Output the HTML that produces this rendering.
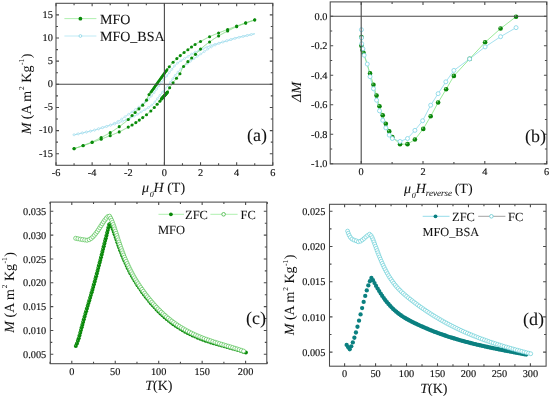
<!DOCTYPE html><html><head><meta charset="utf-8"><style>html,body{margin:0;padding:0;background:#fff;width:550px;height:396px;overflow:hidden}svg{display:block;will-change:transform}text{font-family:"Liberation Serif",serif;fill:#111;text-rendering:geometricPrecision;stroke:#111;stroke-width:0.06}.tk{stroke-width:0.15}</style></head><body>
<svg width="550" height="396" viewBox="0 0 550 396">
<rect width="550" height="396" fill="#fff"/>
<polyline points="74.07,134.75 74.52,134.66 74.97,134.58 75.43,134.49 75.88,134.4 76.33,134.31 76.78,134.22 77.24,134.13 77.69,134.04 78.14,133.94 78.59,133.85 79.05,133.76 79.5,133.66 79.95,133.57 80.41,133.48 80.86,133.38 81.31,133.28 81.76,133.19 82.22,133.09 82.67,132.99 83.12,132.9 83.58,132.8 84.03,132.7 84.48,132.6 84.93,132.5 85.39,132.4 85.84,132.3 86.29,132.2 86.75,132.1 87.2,132 87.65,131.89 88.1,131.79 88.56,131.68 89.01,131.58 89.46,131.47 89.91,131.36 90.37,131.25 90.82,131.14 91.27,131.03 91.73,130.92 92.18,130.81 92.63,130.69 93.08,130.57 93.54,130.46 93.99,130.34 94.44,130.22 94.9,130.1 95.35,129.97 95.8,129.85 96.25,129.72 96.71,129.6 97.16,129.47 97.61,129.34 98.06,129.21 98.52,129.08 98.97,128.94 99.42,128.81 99.88,128.67 100.33,128.53 100.78,128.39 101.23,128.25 101.69,128.11 102.14,127.96 102.59,127.81 103.05,127.66 103.5,127.51 103.95,127.36 104.4,127.21 104.86,127.05 105.31,126.89 105.76,126.73 106.22,126.57 106.67,126.41 107.12,126.24 107.57,126.07 108.03,125.9 108.48,125.72 108.93,125.54 109.38,125.36 109.84,125.18 110.29,124.99 110.74,124.81 111.2,124.61 111.65,124.42 112.1,124.22 112.55,124.02 113.01,123.82 113.46,123.61 113.91,123.4 114.37,123.19 114.82,122.97 115.27,122.75 115.72,122.52 116.18,122.29 116.63,122.06 117.08,121.82 117.54,121.58 117.99,121.33 118.44,121.08 118.89,120.83 119.35,120.57 119.8,120.3 120.25,120.01 120.7,119.71 121.16,119.4 121.61,119.09 122.06,118.77 122.52,118.45 122.97,118.12 123.42,117.8 123.87,117.47 124.33,117.16 124.78,116.84 125.23,116.54 125.69,116.23 126.14,115.92 126.59,115.61 127.04,115.3 127.5,114.99 127.95,114.68 128.4,114.37 128.86,114.07 129.31,113.75 129.76,113.44 130.21,113.13 130.67,112.82 131.12,112.51 131.57,112.2 132.02,111.89 132.48,111.58 132.93,111.27 133.38,110.96 133.84,110.65 134.29,110.33 134.74,110.02 135.19,109.7 135.65,109.37 136.1,109.05 136.55,108.72 137.01,108.38 137.46,108.05 137.91,107.71 138.36,107.37 138.82,107.02 139.27,106.68 139.72,106.33 140.18,105.98 140.63,105.62 141.08,105.27 141.53,104.91 141.99,104.55 142.44,104.19 142.89,103.83 143.34,103.48 143.8,103.12 144.25,102.77 144.7,102.42 145.16,102.06 145.61,101.69 146.06,101.32 146.51,100.94 146.97,100.55 147.42,100.14 147.87,99.72 148.33,99.28 148.78,98.82 149.23,98.36 149.68,97.88 150.14,97.38 150.59,96.88 151.04,96.36 151.5,95.84 151.95,95.3 152.4,94.76 152.85,94.2 153.31,93.64 153.76,93.07 154.21,92.48 154.66,91.86 155.12,91.22 155.57,90.57 156.02,89.9 156.48,89.23 156.93,88.55 157.38,87.87 157.83,87.2 158.29,86.53 158.74,85.88 159.19,85.24 159.65,84.62 160.1,84.02 160.55,83.44 161,82.87 161.46,82.31 161.91,81.76 162.36,81.21 162.82,80.67 163.27,80.13 163.72,79.58 164.17,79.03 164.63,78.46 165.08,77.9 165.53,77.34 165.98,76.78 166.44,76.21 166.89,75.65 167.34,75.09 167.8,74.52 168.25,73.95 168.7,73.39 169.15,72.82 169.61,72.25 170.06,71.68 170.51,71.11 170.97,70.54 171.42,69.97 171.87,69.4 172.32,68.82 172.78,68.24 173.23,67.63 173.68,67.01 174.14,66.4 174.59,65.82 175.04,65.3 175.49,64.84 175.95,64.42 176.4,64.03 176.85,63.65 177.3,63.29 177.76,62.94 178.21,62.61 178.66,62.29 179.12,61.97 179.57,61.67 180.02,61.36 180.47,61.05 180.93,60.75 181.38,60.45 181.83,60.16 182.29,59.87 182.74,59.6 183.19,59.32 183.64,59.06 184.1,58.79 184.55,58.53 185,58.26 185.46,58 185.91,57.74 186.36,57.47 186.81,57.2 187.27,56.92 187.72,56.64 188.17,56.35 188.62,56.05 189.08,55.75 189.53,55.44 189.98,55.13 190.44,54.83 190.89,54.53 191.34,54.23 191.79,53.94 192.25,53.66 192.7,53.39 193.15,53.14 193.61,52.9 194.06,52.67 194.51,52.45 194.96,52.23 195.42,52.02 195.87,51.81 196.32,51.61 196.78,51.41 197.23,51.22 197.68,51.02 198.13,50.83 198.59,50.64 199.04,50.45 199.49,50.26 199.94,50.07 200.4,49.88 200.85,49.68 201.3,49.48 201.76,49.28 202.21,49.08 202.66,48.88 203.11,48.68 203.57,48.48 204.02,48.28 204.47,48.09 204.93,47.89 205.38,47.69 205.83,47.5 206.28,47.31 206.74,47.12 207.19,46.93 207.64,46.75 208.1,46.57 208.55,46.39 209,46.22 209.45,46.05 209.91,45.89 210.36,45.73 210.81,45.58 211.26,45.42 211.72,45.27 212.17,45.13 212.62,44.98 213.08,44.84 213.53,44.7 213.98,44.56 214.43,44.42 214.89,44.28 215.34,44.15 215.79,44.02 216.25,43.88 216.7,43.75 217.15,43.62 217.6,43.49 218.06,43.36 218.51,43.23 218.96,43.11 219.42,42.98 219.87,42.85 220.32,42.73 220.77,42.61 221.23,42.49 221.68,42.37 222.13,42.25 222.58,42.14 223.04,42.02 223.49,41.9 223.94,41.79 224.4,41.67 224.85,41.55 225.3,41.43 225.75,41.31 226.21,41.19 226.66,41.07 227.11,40.94 227.57,40.81 228.02,40.68 228.47,40.54 228.92,40.4 229.38,40.25 229.83,40.11 230.28,39.96 230.74,39.8 231.19,39.65 231.64,39.5 232.09,39.34 232.55,39.19 233,39.04 233.45,38.89 233.9,38.74 234.36,38.59 234.81,38.45 235.26,38.32 235.72,38.18 236.17,38.06 236.62,37.93 237.07,37.82 237.53,37.7 237.98,37.6 238.43,37.49 238.89,37.39 239.34,37.29 239.79,37.19 240.24,37.09 240.7,37 241.15,36.9 241.6,36.81 242.05,36.72 242.51,36.62 242.96,36.53 243.41,36.43 243.87,36.34 244.32,36.24 244.77,36.14 245.22,36.04 245.68,35.94 246.13,35.83 246.58,35.72 247.04,35.62 247.49,35.51 247.94,35.4 248.39,35.29 248.85,35.18 249.3,35.07 249.75,34.96 250.21,34.85 250.66,34.74 251.11,34.63 251.56,34.52 252.02,34.4 252.47,34.29 252.92,34.17 253.37,34.06 253.83,33.94 254.28,33.83 254.73,33.71" fill="none" stroke="#9adcec" stroke-width="0.9"/>
<polyline points="74.07,134.89 74.52,134.77 74.97,134.66 75.43,134.54 75.88,134.43 76.33,134.31 76.78,134.2 77.24,134.08 77.69,133.97 78.14,133.86 78.59,133.75 79.05,133.64 79.5,133.53 79.95,133.42 80.41,133.31 80.86,133.2 81.31,133.09 81.76,132.98 82.22,132.88 82.67,132.77 83.12,132.66 83.58,132.56 84.03,132.46 84.48,132.36 84.93,132.26 85.39,132.17 85.84,132.07 86.29,131.98 86.75,131.88 87.2,131.79 87.65,131.7 88.1,131.6 88.56,131.51 89.01,131.41 89.46,131.31 89.91,131.21 90.37,131.11 90.82,131 91.27,130.9 91.73,130.78 92.18,130.67 92.63,130.54 93.08,130.42 93.54,130.28 93.99,130.15 94.44,130.01 94.9,129.86 95.35,129.71 95.8,129.56 96.25,129.41 96.71,129.26 97.16,129.1 97.61,128.95 98.06,128.8 98.52,128.64 98.97,128.49 99.42,128.35 99.88,128.2 100.33,128.06 100.78,127.92 101.23,127.79 101.69,127.66 102.14,127.53 102.59,127.41 103.05,127.29 103.5,127.17 103.95,127.05 104.4,126.93 104.86,126.81 105.31,126.7 105.76,126.58 106.22,126.46 106.67,126.35 107.12,126.23 107.57,126.11 108.03,125.99 108.48,125.87 108.93,125.75 109.38,125.62 109.84,125.49 110.29,125.37 110.74,125.24 111.2,125.11 111.65,124.98 112.1,124.85 112.55,124.72 113.01,124.58 113.46,124.45 113.91,124.32 114.37,124.18 114.82,124.04 115.27,123.9 115.72,123.76 116.18,123.62 116.63,123.47 117.08,123.33 117.54,123.18 117.99,123.02 118.44,122.87 118.89,122.71 119.35,122.55 119.8,122.38 120.25,122.21 120.7,122.03 121.16,121.85 121.61,121.67 122.06,121.48 122.52,121.29 122.97,121.1 123.42,120.91 123.87,120.71 124.33,120.51 124.78,120.32 125.23,120.12 125.69,119.92 126.14,119.72 126.59,119.52 127.04,119.32 127.5,119.12 127.95,118.92 128.4,118.72 128.86,118.53 129.31,118.34 129.76,118.15 130.21,117.96 130.67,117.77 131.12,117.58 131.57,117.38 132.02,117.19 132.48,116.99 132.93,116.79 133.38,116.58 133.84,116.37 134.29,116.15 134.74,115.93 135.19,115.7 135.65,115.46 136.1,115.21 136.55,114.94 137.01,114.66 137.46,114.37 137.91,114.07 138.36,113.77 138.82,113.47 139.27,113.16 139.72,112.85 140.18,112.55 140.63,112.25 141.08,111.96 141.53,111.68 141.99,111.4 142.44,111.13 142.89,110.86 143.34,110.6 143.8,110.34 144.25,110.07 144.7,109.81 145.16,109.54 145.61,109.28 146.06,109 146.51,108.73 146.97,108.44 147.42,108.15 147.87,107.85 148.33,107.55 148.78,107.24 149.23,106.93 149.68,106.63 150.14,106.31 150.59,105.99 151.04,105.66 151.5,105.31 151.95,104.95 152.4,104.57 152.85,104.18 153.31,103.76 153.76,103.3 154.21,102.78 154.66,102.2 155.12,101.59 155.57,100.97 156.02,100.36 156.48,99.78 156.93,99.2 157.38,98.63 157.83,98.06 158.29,97.49 158.74,96.92 159.19,96.35 159.65,95.78 160.1,95.21 160.55,94.65 161,94.08 161.46,93.51 161.91,92.95 162.36,92.39 162.82,91.82 163.27,91.26 163.72,90.7 164.17,90.14 164.63,89.57 165.08,89.02 165.53,88.47 165.98,87.93 166.44,87.39 166.89,86.84 167.34,86.29 167.8,85.73 168.25,85.16 168.7,84.58 169.15,83.98 169.61,83.36 170.06,82.72 170.51,82.07 170.97,81.4 171.42,80.73 171.87,80.05 172.32,79.37 172.78,78.7 173.23,78.03 173.68,77.38 174.14,76.74 174.59,76.12 175.04,75.53 175.49,74.96 175.95,74.4 176.4,73.84 176.85,73.3 177.3,72.76 177.76,72.24 178.21,71.72 178.66,71.22 179.12,70.72 179.57,70.24 180.02,69.78 180.47,69.32 180.93,68.88 181.38,68.46 181.83,68.05 182.29,67.66 182.74,67.28 183.19,66.91 183.64,66.54 184.1,66.18 184.55,65.83 185,65.48 185.46,65.12 185.91,64.77 186.36,64.41 186.81,64.05 187.27,63.69 187.72,63.33 188.17,62.98 188.62,62.62 189.08,62.27 189.53,61.92 189.98,61.58 190.44,61.23 190.89,60.89 191.34,60.55 191.79,60.22 192.25,59.88 192.7,59.55 193.15,59.23 193.61,58.9 194.06,58.58 194.51,58.27 194.96,57.95 195.42,57.64 195.87,57.33 196.32,57.02 196.78,56.71 197.23,56.4 197.68,56.09 198.13,55.78 198.59,55.47 199.04,55.16 199.49,54.85 199.94,54.53 200.4,54.23 200.85,53.92 201.3,53.61 201.76,53.3 202.21,52.99 202.66,52.68 203.11,52.37 203.57,52.06 204.02,51.76 204.47,51.44 204.93,51.13 205.38,50.8 205.83,50.48 206.28,50.15 206.74,49.83 207.19,49.51 207.64,49.2 208.1,48.89 208.55,48.59 209,48.3 209.45,48.03 209.91,47.77 210.36,47.52 210.81,47.27 211.26,47.02 211.72,46.78 212.17,46.54 212.62,46.31 213.08,46.08 213.53,45.85 213.98,45.63 214.43,45.41 214.89,45.2 215.34,44.99 215.79,44.78 216.25,44.58 216.7,44.38 217.15,44.18 217.6,43.99 218.06,43.79 218.51,43.61 218.96,43.42 219.42,43.24 219.87,43.06 220.32,42.88 220.77,42.7 221.23,42.53 221.68,42.36 222.13,42.19 222.58,42.03 223.04,41.87 223.49,41.71 223.94,41.55 224.4,41.39 224.85,41.24 225.3,41.09 225.75,40.94 226.21,40.79 226.66,40.64 227.11,40.49 227.57,40.35 228.02,40.21 228.47,40.07 228.92,39.93 229.38,39.79 229.83,39.66 230.28,39.52 230.74,39.39 231.19,39.26 231.64,39.13 232.09,39 232.55,38.88 233,38.75 233.45,38.63 233.9,38.5 234.36,38.38 234.81,38.26 235.26,38.14 235.72,38.03 236.17,37.91 236.62,37.79 237.07,37.68 237.53,37.57 237.98,37.46 238.43,37.35 238.89,37.24 239.34,37.13 239.79,37.02 240.24,36.92 240.7,36.81 241.15,36.71 241.6,36.6 242.05,36.5 242.51,36.4 242.96,36.3 243.41,36.2 243.87,36.1 244.32,36 244.77,35.9 245.22,35.8 245.68,35.7 246.13,35.61 246.58,35.51 247.04,35.41 247.49,35.32 247.94,35.22 248.39,35.12 248.85,35.03 249.3,34.94 249.75,34.84 250.21,34.75 250.66,34.66 251.11,34.56 251.56,34.47 252.02,34.38 252.47,34.29 252.92,34.2 253.37,34.11 253.83,34.02 254.28,33.94 254.73,33.85" fill="none" stroke="#9adcec" stroke-width="0.9"/>
<g fill="#fff" stroke="#a2dcec" stroke-width="0.6"><circle cx="74.07" cy="134.75" r="0.95"/><circle cx="78.19" cy="133.93" r="0.95"/><circle cx="82.3" cy="133.07" r="0.95"/><circle cx="86.4" cy="132.17" r="0.95"/><circle cx="90.49" cy="131.22" r="0.95"/><circle cx="94.56" cy="130.19" r="0.95"/><circle cx="98.6" cy="129.05" r="0.95"/><circle cx="102.62" cy="127.81" r="0.95"/><circle cx="106.59" cy="126.44" r="0.95"/><circle cx="110.5" cy="124.91" r="0.95"/><circle cx="114.33" cy="123.2" r="0.95"/><circle cx="118.07" cy="121.29" r="0.95"/><circle cx="121.64" cy="119.07" r="0.95"/><circle cx="125.07" cy="116.65" r="0.95"/><circle cx="128.54" cy="114.28" r="0.95"/><circle cx="132" cy="111.91" r="0.95"/><circle cx="135.45" cy="109.51" r="0.95"/><circle cx="138.83" cy="107.01" r="0.95"/><circle cx="142.14" cy="104.43" r="0.95"/><circle cx="145.44" cy="101.83" r="0.95"/><circle cx="148.57" cy="99.04" r="0.95"/><circle cx="151.41" cy="95.94" r="0.95"/><circle cx="154.06" cy="92.68" r="0.95"/><circle cx="156.47" cy="89.24" r="0.95"/><circle cx="158.82" cy="85.76" r="0.95"/><circle cx="161.36" cy="82.43" r="0.95"/><circle cx="164.04" cy="79.19" r="0.95"/><circle cx="166.68" cy="75.92" r="0.95"/><circle cx="169.3" cy="72.64" r="0.95"/><circle cx="171.91" cy="69.35" r="0.95"/><circle cx="174.44" cy="66" r="0.95"/><circle cx="177.5" cy="63.14" r="0.95"/><circle cx="180.95" cy="60.73" r="0.95"/><circle cx="184.53" cy="58.54" r="0.95"/><circle cx="188.13" cy="56.38" r="0.95"/><circle cx="191.62" cy="54.05" r="0.95"/><circle cx="195.32" cy="52.06" r="0.95"/><circle cx="199.17" cy="50.4" r="0.95"/><circle cx="203.03" cy="48.72" r="0.95"/><circle cx="206.88" cy="47.06" r="0.95"/><circle cx="210.81" cy="45.58" r="0.95"/><circle cx="214.81" cy="44.31" r="0.95"/><circle cx="218.85" cy="43.14" r="0.95"/><circle cx="222.91" cy="42.05" r="0.95"/><circle cx="226.97" cy="40.98" r="0.95"/><circle cx="230.97" cy="39.72" r="0.95"/><circle cx="234.96" cy="38.41" r="0.95"/><circle cx="239.03" cy="37.36" r="0.95"/><circle cx="243.14" cy="36.49" r="0.95"/><circle cx="247.23" cy="35.57" r="0.95"/><circle cx="251.31" cy="34.58" r="0.95"/></g>
<g fill="#fff" stroke="#a2dcec" stroke-width="0.6"><circle cx="74.07" cy="134.89" r="0.95"/><circle cx="78.14" cy="133.86" r="0.95"/><circle cx="82.22" cy="132.87" r="0.95"/><circle cx="86.32" cy="131.97" r="0.95"/><circle cx="90.43" cy="131.1" r="0.95"/><circle cx="94.48" cy="129.99" r="0.95"/><circle cx="98.47" cy="128.66" r="0.95"/><circle cx="102.48" cy="127.44" r="0.95"/><circle cx="106.55" cy="126.38" r="0.95"/><circle cx="110.6" cy="125.28" r="0.95"/><circle cx="114.63" cy="124.1" r="0.95"/><circle cx="118.63" cy="122.8" r="0.95"/><circle cx="122.54" cy="121.28" r="0.95"/><circle cx="126.39" cy="119.61" r="0.95"/><circle cx="130.25" cy="117.94" r="0.95"/><circle cx="134.09" cy="116.25" r="0.95"/><circle cx="137.74" cy="114.19" r="0.95"/><circle cx="141.24" cy="111.86" r="0.95"/><circle cx="144.85" cy="109.72" r="0.95"/><circle cx="148.41" cy="107.49" r="0.95"/><circle cx="151.83" cy="105.05" r="0.95"/><circle cx="154.77" cy="102.07" r="0.95"/><circle cx="157.31" cy="98.72" r="0.95"/><circle cx="159.92" cy="95.44" r="0.95"/><circle cx="162.55" cy="92.16" r="0.95"/><circle cx="165.19" cy="88.89" r="0.95"/><circle cx="167.86" cy="85.65" r="0.95"/><circle cx="170.37" cy="82.28" r="0.95"/><circle cx="172.71" cy="78.8" r="0.95"/><circle cx="175.15" cy="75.38" r="0.95"/><circle cx="177.83" cy="72.15" r="0.95"/><circle cx="180.71" cy="69.09" r="0.95"/><circle cx="183.89" cy="66.35" r="0.95"/><circle cx="187.19" cy="63.75" r="0.95"/><circle cx="190.51" cy="61.18" r="0.95"/><circle cx="193.9" cy="58.7" r="0.95"/><circle cx="197.35" cy="56.31" r="0.95"/><circle cx="200.82" cy="53.94" r="0.95"/><circle cx="204.29" cy="51.57" r="0.95"/><circle cx="207.72" cy="49.14" r="0.95"/><circle cx="211.32" cy="46.99" r="0.95"/><circle cx="215.07" cy="45.11" r="0.95"/><circle cx="218.92" cy="43.44" r="0.95"/><circle cx="222.85" cy="41.93" r="0.95"/><circle cx="226.82" cy="40.59" r="0.95"/><circle cx="230.84" cy="39.36" r="0.95"/><circle cx="234.89" cy="38.24" r="0.95"/><circle cx="238.96" cy="37.22" r="0.95"/><circle cx="243.06" cy="36.28" r="0.95"/><circle cx="247.16" cy="35.39" r="0.95"/><circle cx="251.27" cy="34.53" r="0.95"/></g>
<polyline points="74.07,148.73 74.52,148.58 74.97,148.42 75.43,148.26 75.88,148.11 76.33,147.95 76.78,147.79 77.24,147.63 77.69,147.47 78.14,147.31 78.59,147.15 79.05,146.98 79.5,146.82 79.95,146.65 80.41,146.49 80.86,146.32 81.31,146.16 81.76,145.99 82.22,145.82 82.67,145.65 83.12,145.48 83.58,145.31 84.03,145.14 84.48,144.97 84.93,144.8 85.39,144.63 85.84,144.46 86.29,144.29 86.75,144.11 87.2,143.94 87.65,143.76 88.1,143.59 88.56,143.41 89.01,143.23 89.46,143.04 89.91,142.86 90.37,142.67 90.82,142.49 91.27,142.3 91.73,142.1 92.18,141.91 92.63,141.71 93.08,141.5 93.54,141.3 93.99,141.09 94.44,140.88 94.9,140.66 95.35,140.45 95.8,140.23 96.25,140.01 96.71,139.78 97.16,139.56 97.61,139.33 98.06,139.11 98.52,138.88 98.97,138.65 99.42,138.42 99.88,138.19 100.33,137.96 100.78,137.73 101.23,137.49 101.69,137.26 102.14,137.03 102.59,136.8 103.05,136.57 103.5,136.33 103.95,136.1 104.4,135.87 104.86,135.63 105.31,135.39 105.76,135.15 106.22,134.91 106.67,134.67 107.12,134.42 107.57,134.17 108.03,133.92 108.48,133.67 108.93,133.41 109.38,133.15 109.84,132.88 110.29,132.61 110.74,132.34 111.2,132.07 111.65,131.79 112.1,131.5 112.55,131.22 113.01,130.93 113.46,130.64 113.91,130.34 114.37,130.04 114.82,129.74 115.27,129.43 115.72,129.12 116.18,128.81 116.63,128.5 117.08,128.18 117.54,127.87 117.99,127.55 118.44,127.22 118.89,126.9 119.35,126.57 119.8,126.24 120.25,125.91 120.7,125.58 121.16,125.25 121.61,124.91 122.06,124.57 122.52,124.23 122.97,123.88 123.42,123.54 123.87,123.18 124.33,122.83 124.78,122.46 125.23,122.1 125.69,121.72 126.14,121.35 126.59,120.96 127.04,120.57 127.5,120.17 127.95,119.77 128.4,119.35 128.86,118.92 129.31,118.46 129.76,117.99 130.21,117.51 130.67,117.02 131.12,116.53 131.57,116.05 132.02,115.58 132.48,115.12 132.93,114.65 133.38,114.19 133.84,113.73 134.29,113.27 134.74,112.81 135.19,112.36 135.65,111.92 136.1,111.49 136.55,111.06 137.01,110.63 137.46,110.21 137.91,109.79 138.36,109.37 138.82,108.94 139.27,108.5 139.72,108.08 140.18,107.66 140.63,107.23 141.08,106.81 141.53,106.37 141.99,105.91 142.44,105.43 142.89,104.94 143.34,104.44 143.8,103.93 144.25,103.4 144.7,102.85 145.16,102.26 145.61,101.63 146.06,100.94 146.51,100.17 146.97,99.19 147.42,98.06 147.87,96.91 148.33,95.86 148.78,95.02 149.23,94.34 149.68,93.75 150.14,93.19 150.59,92.64 151.04,92.06 151.5,91.44 151.95,90.82 152.4,90.19 152.85,89.56 153.31,88.93 153.76,88.29 154.21,87.65 154.66,87.01 155.12,86.36 155.57,85.72 156.02,85.08 156.48,84.44 156.93,83.81 157.38,83.18 157.83,82.54 158.29,81.91 158.74,81.28 159.19,80.65 159.65,80.02 160.1,79.39 160.55,78.75 161,78.12 161.46,77.5 161.91,76.87 162.36,76.24 162.82,75.61 163.27,74.98 163.72,74.36 164.17,73.73 164.63,73.11 165.08,72.49 165.53,71.88 165.98,71.26 166.44,70.64 166.89,70.02 167.34,69.4 167.8,68.76 168.25,68.11 168.7,67.48 169.15,66.87 169.61,66.29 170.06,65.72 170.51,65.16 170.97,64.61 171.42,64.07 171.87,63.54 172.32,63.03 172.78,62.54 173.23,62.06 173.68,61.59 174.14,61.14 174.59,60.71 175.04,60.28 175.49,59.86 175.95,59.45 176.4,59.04 176.85,58.62 177.3,58.21 177.76,57.81 178.21,57.41 178.66,57.01 179.12,56.62 179.57,56.23 180.02,55.84 180.47,55.45 180.93,55.07 181.38,54.68 181.83,54.3 182.29,53.92 182.74,53.54 183.19,53.17 183.64,52.81 184.1,52.45 184.55,52.1 185,51.77 185.46,51.43 185.91,51.1 186.36,50.78 186.81,50.45 187.27,50.13 187.72,49.8 188.17,49.47 188.62,49.14 189.08,48.8 189.53,48.47 189.98,48.14 190.44,47.81 190.89,47.48 191.34,47.15 191.79,46.83 192.25,46.5 192.7,46.17 193.15,45.84 193.61,45.51 194.06,45.19 194.51,44.88 194.96,44.59 195.42,44.31 195.87,44.03 196.32,43.77 196.78,43.51 197.23,43.26 197.68,43.01 198.13,42.77 198.59,42.52 199.04,42.28 199.49,42.04 199.94,41.8 200.4,41.56 200.85,41.31 201.3,41.07 201.76,40.82 202.21,40.57 202.66,40.32 203.11,40.07 203.57,39.82 204.02,39.57 204.47,39.33 204.93,39.08 205.38,38.84 205.83,38.6 206.28,38.36 206.74,38.12 207.19,37.88 207.64,37.65 208.1,37.43 208.55,37.2 209,36.99 209.45,36.77 209.91,36.56 210.36,36.36 210.81,36.15 211.26,35.95 211.72,35.76 212.17,35.57 212.62,35.37 213.08,35.19 213.53,35 213.98,34.81 214.43,34.63 214.89,34.45 215.34,34.27 215.79,34.09 216.25,33.91 216.7,33.73 217.15,33.55 217.6,33.37 218.06,33.19 218.51,33.01 218.96,32.82 219.42,32.64 219.87,32.46 220.32,32.28 220.77,32.1 221.23,31.93 221.68,31.75 222.13,31.57 222.58,31.39 223.04,31.22 223.49,31.04 223.94,30.87 224.4,30.69 224.85,30.52 225.3,30.34 225.75,30.17 226.21,30 226.66,29.82 227.11,29.65 227.57,29.48 228.02,29.3 228.47,29.13 228.92,28.96 229.38,28.79 229.83,28.62 230.28,28.44 230.74,28.27 231.19,28.1 231.64,27.93 232.09,27.76 232.55,27.59 233,27.42 233.45,27.26 233.9,27.09 234.36,26.92 234.81,26.75 235.26,26.59 235.72,26.42 236.17,26.25 236.62,26.09 237.07,25.92 237.53,25.76 237.98,25.6 238.43,25.43 238.89,25.27 239.34,25.1 239.79,24.94 240.24,24.78 240.7,24.62 241.15,24.46 241.6,24.29 242.05,24.13 242.51,23.97 242.96,23.82 243.41,23.66 243.87,23.5 244.32,23.35 244.77,23.19 245.22,23.04 245.68,22.89 246.13,22.74 246.58,22.58 247.04,22.44 247.49,22.29 247.94,22.14 248.39,21.99 248.85,21.84 249.3,21.7 249.75,21.55 250.21,21.41 250.66,21.26 251.11,21.12 251.56,20.98 252.02,20.84 252.47,20.7 252.92,20.56 253.37,20.42 253.83,20.28 254.28,20.15 254.73,20.01" fill="none" stroke="#7ed87e" stroke-width="0.9"/>
<polyline points="74.07,148.59 74.52,148.45 74.97,148.32 75.43,148.18 75.88,148.04 76.33,147.9 76.78,147.76 77.24,147.62 77.69,147.48 78.14,147.34 78.59,147.19 79.05,147.05 79.5,146.9 79.95,146.76 80.41,146.61 80.86,146.46 81.31,146.31 81.76,146.16 82.22,146.02 82.67,145.86 83.12,145.71 83.58,145.56 84.03,145.41 84.48,145.25 84.93,145.1 85.39,144.94 85.84,144.78 86.29,144.63 86.75,144.47 87.2,144.31 87.65,144.14 88.1,143.98 88.56,143.82 89.01,143.66 89.46,143.5 89.91,143.33 90.37,143.17 90.82,143 91.27,142.84 91.73,142.68 92.18,142.51 92.63,142.35 93.08,142.18 93.54,142.01 93.99,141.85 94.44,141.68 94.9,141.51 95.35,141.34 95.8,141.18 96.25,141.01 96.71,140.84 97.16,140.67 97.61,140.5 98.06,140.33 98.52,140.16 98.97,139.98 99.42,139.81 99.88,139.64 100.33,139.47 100.78,139.3 101.23,139.12 101.69,138.95 102.14,138.78 102.59,138.6 103.05,138.43 103.5,138.26 103.95,138.08 104.4,137.91 104.86,137.73 105.31,137.56 105.76,137.38 106.22,137.21 106.67,137.03 107.12,136.85 107.57,136.67 108.03,136.5 108.48,136.32 108.93,136.14 109.38,135.96 109.84,135.78 110.29,135.59 110.74,135.41 111.2,135.23 111.65,135.05 112.1,134.87 112.55,134.69 113.01,134.51 113.46,134.33 113.91,134.15 114.37,133.97 114.82,133.79 115.27,133.6 115.72,133.41 116.18,133.23 116.63,133.03 117.08,132.84 117.54,132.65 117.99,132.45 118.44,132.24 118.89,132.04 119.35,131.83 119.8,131.61 120.25,131.4 120.7,131.17 121.16,130.95 121.61,130.72 122.06,130.48 122.52,130.24 122.97,130 123.42,129.76 123.87,129.52 124.33,129.27 124.78,129.03 125.23,128.78 125.69,128.53 126.14,128.28 126.59,128.03 127.04,127.78 127.5,127.53 127.95,127.29 128.4,127.04 128.86,126.8 129.31,126.56 129.76,126.32 130.21,126.08 130.67,125.83 131.12,125.59 131.57,125.34 132.02,125.09 132.48,124.83 132.93,124.57 133.38,124.29 133.84,124.01 134.29,123.72 134.74,123.41 135.19,123.09 135.65,122.76 136.1,122.43 136.55,122.1 137.01,121.77 137.46,121.45 137.91,121.12 138.36,120.79 138.82,120.46 139.27,120.13 139.72,119.8 140.18,119.46 140.63,119.13 141.08,118.8 141.53,118.47 141.99,118.15 142.44,117.82 142.89,117.5 143.34,117.17 143.8,116.83 144.25,116.5 144.7,116.15 145.16,115.79 145.61,115.43 146.06,115.06 146.51,114.68 146.97,114.3 147.42,113.92 147.87,113.53 148.33,113.15 148.78,112.76 149.23,112.38 149.68,112 150.14,111.61 150.59,111.22 151.04,110.82 151.5,110.4 151.95,109.98 152.4,109.53 152.85,109.06 153.31,108.59 153.76,108.1 154.21,107.6 154.66,107.09 155.12,106.58 155.57,106.07 156.02,105.56 156.48,105.06 156.93,104.56 157.38,104.08 157.83,103.61 158.29,103.16 158.74,102.69 159.19,102.19 159.65,101.64 160.1,100.99 160.55,100.29 161,99.59 161.46,98.95 161.91,98.39 162.36,97.86 162.82,97.36 163.27,96.88 163.72,96.39 164.17,95.9 164.63,95.38 165.08,94.88 165.53,94.39 165.98,93.88 166.44,93.35 166.89,92.77 167.34,92.14 167.8,91.38 168.25,90.51 168.7,89.59 169.15,88.69 169.61,87.87 170.06,87.13 170.51,86.42 170.97,85.74 171.42,85.08 171.87,84.43 172.32,83.79 172.78,83.16 173.23,82.53 173.68,81.9 174.14,81.29 174.59,80.68 175.04,80.08 175.49,79.49 175.95,78.9 176.4,78.31 176.85,77.73 177.3,77.13 177.76,76.54 178.21,75.96 178.66,75.42 179.12,74.86 179.57,74.26 180.02,73.58 180.47,72.74 180.93,71.69 181.38,70.54 181.83,69.41 182.29,68.43 182.74,67.66 183.19,66.97 183.64,66.34 184.1,65.75 184.55,65.2 185,64.67 185.46,64.16 185.91,63.66 186.36,63.17 186.81,62.69 187.27,62.23 187.72,61.79 188.17,61.37 188.62,60.94 189.08,60.52 189.53,60.1 189.98,59.66 190.44,59.23 190.89,58.81 191.34,58.39 191.79,57.97 192.25,57.54 192.7,57.11 193.15,56.68 193.61,56.24 194.06,55.79 194.51,55.33 194.96,54.87 195.42,54.41 195.87,53.95 196.32,53.48 196.78,53.02 197.23,52.55 197.68,52.07 198.13,51.58 198.59,51.09 199.04,50.61 199.49,50.14 199.94,49.68 200.4,49.25 200.85,48.83 201.3,48.43 201.76,48.03 202.21,47.64 202.66,47.25 203.11,46.88 203.57,46.5 204.02,46.14 204.47,45.77 204.93,45.42 205.38,45.06 205.83,44.72 206.28,44.37 206.74,44.03 207.19,43.69 207.64,43.35 208.1,43.02 208.55,42.69 209,42.36 209.45,42.03 209.91,41.7 210.36,41.38 210.81,41.05 211.26,40.73 211.72,40.42 212.17,40.1 212.62,39.79 213.08,39.48 213.53,39.17 213.98,38.86 214.43,38.56 214.89,38.26 215.34,37.96 215.79,37.67 216.25,37.38 216.7,37.1 217.15,36.81 217.6,36.53 218.06,36.26 218.51,35.99 218.96,35.72 219.42,35.45 219.87,35.19 220.32,34.93 220.77,34.68 221.23,34.43 221.68,34.18 222.13,33.93 222.58,33.69 223.04,33.45 223.49,33.21 223.94,32.97 224.4,32.73 224.85,32.5 225.3,32.27 225.75,32.03 226.21,31.8 226.66,31.57 227.11,31.34 227.57,31.11 228.02,30.87 228.47,30.64 228.92,30.41 229.38,30.18 229.83,29.95 230.28,29.72 230.74,29.49 231.19,29.27 231.64,29.04 232.09,28.82 232.55,28.59 233,28.37 233.45,28.15 233.9,27.94 234.36,27.72 234.81,27.51 235.26,27.3 235.72,27.1 236.17,26.89 236.62,26.69 237.07,26.5 237.53,26.3 237.98,26.11 238.43,25.93 238.89,25.74 239.34,25.56 239.79,25.37 240.24,25.19 240.7,25.01 241.15,24.84 241.6,24.66 242.05,24.49 242.51,24.31 242.96,24.14 243.41,23.97 243.87,23.8 244.32,23.63 244.77,23.46 245.22,23.29 245.68,23.12 246.13,22.95 246.58,22.78 247.04,22.61 247.49,22.44 247.94,22.28 248.39,22.11 248.85,21.95 249.3,21.78 249.75,21.62 250.21,21.45 250.66,21.29 251.11,21.13 251.56,20.97 252.02,20.81 252.47,20.65 252.92,20.49 253.37,20.34 253.83,20.18 254.28,20.02 254.73,19.87" fill="none" stroke="#7ed87e" stroke-width="0.9"/>
<g fill="#0a8a0a"><circle cx="254.73" cy="20.01" r="1.55"/><circle cx="245.7" cy="22.88" r="1.55"/><circle cx="236.67" cy="26.07" r="1.55"/><circle cx="227.63" cy="29.45" r="1.55"/><circle cx="218.6" cy="32.97" r="1.55"/><circle cx="209.57" cy="36.72" r="1.55"/><circle cx="200.53" cy="41.49" r="1.55"/><circle cx="195.11" cy="44.49" r="1.55"/><circle cx="191.5" cy="47.04" r="1.55"/><circle cx="187.89" cy="49.68" r="1.55"/><circle cx="184.09" cy="52.46" r="1.55"/><circle cx="180.3" cy="55.6" r="1.55"/><circle cx="176.87" cy="58.61" r="1.55"/><circle cx="173.07" cy="62.22" r="1.55"/><circle cx="169.28" cy="66.71" r="1.55"/><circle cx="149.04" cy="94.61" r="1.55"/><circle cx="146.51" cy="100.17" r="1.55"/><circle cx="142.72" cy="105.13" r="1.55"/><circle cx="138.93" cy="108.83" r="1.55"/><circle cx="135.13" cy="112.43" r="1.55"/><circle cx="132.06" cy="115.54" r="1.55"/><circle cx="128.27" cy="119.48" r="1.55"/><circle cx="119.23" cy="126.65" r="1.55"/><circle cx="110.2" cy="132.67" r="1.55"/><circle cx="101.17" cy="137.53" r="1.55"/><circle cx="92.13" cy="141.93" r="1.55"/><circle cx="83.1" cy="145.49" r="1.55"/><circle cx="74.07" cy="148.73" r="1.55"/></g>
<g fill="#0a8a0a"><circle cx="167.11" cy="69.72" r="1.35"/><circle cx="166.55" cy="70.49" r="1.35"/><circle cx="165.99" cy="71.25" r="1.35"/><circle cx="165.43" cy="72.02" r="1.35"/><circle cx="164.87" cy="72.78" r="1.35"/><circle cx="164.31" cy="73.55" r="1.35"/><circle cx="163.75" cy="74.32" r="1.35"/><circle cx="163.19" cy="75.1" r="1.35"/><circle cx="162.62" cy="75.87" r="1.35"/><circle cx="162.06" cy="76.65" r="1.35"/><circle cx="161.5" cy="77.43" r="1.35"/><circle cx="160.94" cy="78.21" r="1.35"/><circle cx="160.38" cy="78.99" r="1.35"/><circle cx="159.82" cy="79.77" r="1.35"/><circle cx="159.26" cy="80.55" r="1.35"/><circle cx="158.7" cy="81.34" r="1.35"/><circle cx="158.14" cy="82.12" r="1.35"/><circle cx="157.58" cy="82.9" r="1.35"/><circle cx="157.02" cy="83.68" r="1.35"/><circle cx="156.46" cy="84.47" r="1.35"/><circle cx="155.9" cy="85.26" r="1.35"/><circle cx="155.34" cy="86.06" r="1.35"/><circle cx="154.77" cy="86.85" r="1.35"/><circle cx="154.21" cy="87.65" r="1.35"/><circle cx="153.65" cy="88.44" r="1.35"/><circle cx="153.09" cy="89.23" r="1.35"/><circle cx="152.53" cy="90.01" r="1.35"/><circle cx="151.97" cy="90.79" r="1.35"/><circle cx="151.41" cy="91.56" r="1.35"/><circle cx="150.85" cy="92.32" r="1.35"/></g>
<g fill="#0a8a0a"><circle cx="74.07" cy="148.59" r="1.55"/><circle cx="83.1" cy="145.72" r="1.55"/><circle cx="92.13" cy="142.53" r="1.55"/><circle cx="101.17" cy="139.15" r="1.55"/><circle cx="110.2" cy="135.63" r="1.55"/><circle cx="119.23" cy="131.88" r="1.55"/><circle cx="128.27" cy="127.11" r="1.55"/><circle cx="132.06" cy="125.07" r="1.55"/><circle cx="135.85" cy="122.61" r="1.55"/><circle cx="139.29" cy="120.11" r="1.55"/><circle cx="142.72" cy="117.62" r="1.55"/><circle cx="146.51" cy="114.68" r="1.55"/><circle cx="150.85" cy="110.99" r="1.55"/><circle cx="154.28" cy="107.52" r="1.55"/><circle cx="157.17" cy="104.3" r="1.55"/><circle cx="159.88" cy="101.31" r="1.55"/><circle cx="169.64" cy="87.82" r="1.55"/><circle cx="173.07" cy="82.75" r="1.55"/><circle cx="176.5" cy="78.18" r="1.55"/><circle cx="179.94" cy="73.72" r="1.55"/><circle cx="183.55" cy="66.47" r="1.55"/><circle cx="187.89" cy="61.63" r="1.55"/><circle cx="191.68" cy="58.07" r="1.55"/><circle cx="195.47" cy="54.35" r="1.55"/><circle cx="200.53" cy="49.12" r="1.55"/><circle cx="209.57" cy="41.95" r="1.55"/><circle cx="218.6" cy="35.93" r="1.55"/><circle cx="227.63" cy="31.07" r="1.55"/><circle cx="236.67" cy="26.67" r="1.55"/><circle cx="245.7" cy="23.11" r="1.55"/><circle cx="254.73" cy="19.87" r="1.55"/></g>
<g fill="#0a8a0a"><circle cx="161.33" cy="99.12" r="1.55"/><circle cx="161.65" cy="98.7" r="1.55"/><circle cx="161.98" cy="98.31" r="1.55"/><circle cx="162.3" cy="97.93" r="1.55"/><circle cx="162.62" cy="97.57" r="1.55"/><circle cx="162.95" cy="97.22" r="1.55"/><circle cx="163.27" cy="96.88" r="1.55"/><circle cx="163.59" cy="96.53" r="1.55"/><circle cx="163.92" cy="96.18" r="1.55"/><circle cx="164.24" cy="95.82" r="1.55"/><circle cx="164.56" cy="95.46" r="1.55"/><circle cx="164.88" cy="95.1" r="1.55"/><circle cx="165.21" cy="94.74" r="1.55"/><circle cx="165.53" cy="94.39" r="1.55"/><circle cx="165.85" cy="94.03" r="1.55"/><circle cx="166.18" cy="93.66" r="1.55"/><circle cx="166.5" cy="93.27" r="1.55"/><circle cx="166.82" cy="92.86" r="1.55"/><circle cx="167.15" cy="92.42" r="1.55"/><circle cx="167.47" cy="91.94" r="1.55"/></g>
<path d="M56 165.3v-3.0M56 3.3v3.0M92.13 165.3v-3.0M92.13 3.3v3.0M128.27 165.3v-3.0M128.27 3.3v3.0M164.4 165.3v-3.0M164.4 3.3v3.0M200.53 165.3v-3.0M200.53 3.3v3.0M236.67 165.3v-3.0M236.67 3.3v3.0M272.8 165.3v-3.0M272.8 3.3v3.0M74.07 165.3v-2.0M74.07 3.3v2.0M110.2 165.3v-2.0M110.2 3.3v2.0M146.33 165.3v-2.0M146.33 3.3v2.0M182.47 165.3v-2.0M182.47 3.3v2.0M218.6 165.3v-2.0M218.6 3.3v2.0M254.73 165.3v-2.0M254.73 3.3v2.0M56 153.73h3.0M272.8 153.73h-3.0M56 130.59h3.0M272.8 130.59h-3.0M56 107.44h3.0M272.8 107.44h-3.0M56 84.3h3.0M272.8 84.3h-3.0M56 61.16h3.0M272.8 61.16h-3.0M56 38.01h3.0M272.8 38.01h-3.0M56 14.87h3.0M272.8 14.87h-3.0M56 142.16h2.0M272.8 142.16h-2.0M56 119.01h2.0M272.8 119.01h-2.0M56 95.87h2.0M272.8 95.87h-2.0M56 72.73h2.0M272.8 72.73h-2.0M56 49.59h2.0M272.8 49.59h-2.0M56 26.44h2.0M272.8 26.44h-2.0" stroke="#4a4a4a" stroke-width="1.1" fill="none"/>
<rect x="56" y="3.3" width="216.8" height="162" fill="none" stroke="#4a4a4a" stroke-width="1.05"/>
<path d="M164.4 3.3V165.3M56 84.3H272.8" stroke="#4a4a4a" stroke-width="1.1"/>
<text class="tk" x="56" y="176.3" font-size="10.3" text-anchor="middle">-6</text>
<text class="tk" x="92.13" y="176.3" font-size="10.3" text-anchor="middle">-4</text>
<text class="tk" x="128.27" y="176.3" font-size="10.3" text-anchor="middle">-2</text>
<text class="tk" x="164.4" y="176.3" font-size="10.3" text-anchor="middle">0</text>
<text class="tk" x="200.53" y="176.3" font-size="10.3" text-anchor="middle">2</text>
<text class="tk" x="236.67" y="176.3" font-size="10.3" text-anchor="middle">4</text>
<text class="tk" x="272.8" y="176.3" font-size="10.3" text-anchor="middle">6</text>
<text class="tk" x="52.8" y="156.63" font-size="10.3" text-anchor="end">-15</text>
<text class="tk" x="52.8" y="133.49" font-size="10.3" text-anchor="end">-10</text>
<text class="tk" x="52.8" y="110.34" font-size="10.3" text-anchor="end">-5</text>
<text class="tk" x="52.8" y="87.2" font-size="10.3" text-anchor="end">0</text>
<text class="tk" x="52.8" y="64.06" font-size="10.3" text-anchor="end">5</text>
<text class="tk" x="52.8" y="40.91" font-size="10.3" text-anchor="end">10</text>
<text class="tk" x="52.8" y="17.77" font-size="10.3" text-anchor="end">15</text>
<path d="M64.4 18.6H96.4" stroke="#a6eea6" stroke-width="0.9"/><circle cx="80.4" cy="18.7" r="1.9" fill="#0a8a0a"/>
<path d="M64.4 36H96.4" stroke="#b8e8f4" stroke-width="0.9"/><circle cx="80.4" cy="36" r="1.4" fill="#fff" stroke="#86d4e4" stroke-width="0.8"/>
<text x="100" y="23.8" font-size="14">MFO</text>
<text x="100" y="41.3" font-size="14">MFO_BSA</text>
<text x="247" y="141.2" font-size="18">(a)</text>
<text x="163.5" y="191.8" font-size="14" text-anchor="middle"><tspan font-style="italic">μ</tspan><tspan font-style="italic" font-size="8" dy="5.3" dx="0.8">0</tspan><tspan font-style="italic" dy="-5.3" dx="-0.2">H</tspan> (T)</text>
<text transform="translate(30.6 94) rotate(-90)" font-size="14" text-anchor="middle" style="stroke-width:0.05"><tspan font-style="italic">M</tspan> (A m<tspan font-size="7.5" dy="-6.5" dx="0.8">2</tspan><tspan dy="6.5"> Kg</tspan><tspan font-size="7.5" dy="-6.5" dx="0.5">-1</tspan><tspan dy="6.5" dx="0.5">)</tspan></text>
<polyline points="361.4,29.72 361.49,37.86 361.71,43.78 362.95,48.82 364.18,55.18 367.28,64.06 370.06,76.64 373.46,88.63 376.56,100.17 379.49,110.83 382.74,120.3 385.83,127.85 389.24,135.1 392.33,138.5 400.06,141.46 407.49,138.5 414.91,130.36 422.64,120.74 430.68,105.2 438.11,93.66 445.84,81.82 453.88,70.42 469.65,58.88 485.12,46.89 500.58,36.68 516.05,27.65" fill="none" stroke="#9adcec" stroke-width="0.9"/>
<polyline points="361.4,36.98 361.4,45.86 362.33,49.7 363.57,52.96 370.06,73.38 373.46,84.78 376.56,95.58 379.49,106.24 382.74,115.27 385.83,123.85 389.24,131.4 392.33,137.17 400.06,144.13 407.49,144.13 414.91,139.54 423.26,128.88 430.68,116.3 438.11,102.54 446.15,89.22 453.88,75.9 469.65,58.88 485.12,42.3 500.58,28.54 516.05,16.7" fill="none" stroke="#8ee88e" stroke-width="0.9"/>
<g fill="#0a860a"><circle cx="361.4" cy="36.98" r="2.3"/><circle cx="360.7" cy="36.18" r="0.8" fill="#7fcf7f"/><circle cx="361.4" cy="45.86" r="2.3"/><circle cx="360.7" cy="45.06" r="0.8" fill="#7fcf7f"/><circle cx="362.33" cy="49.7" r="2.3"/><circle cx="361.63" cy="48.9" r="0.8" fill="#7fcf7f"/><circle cx="363.57" cy="52.96" r="2.3"/><circle cx="362.87" cy="52.16" r="0.8" fill="#7fcf7f"/><circle cx="370.06" cy="73.38" r="2.3"/><circle cx="369.36" cy="72.58" r="0.8" fill="#7fcf7f"/><circle cx="373.46" cy="84.78" r="2.3"/><circle cx="372.76" cy="83.98" r="0.8" fill="#7fcf7f"/><circle cx="376.56" cy="95.58" r="2.3"/><circle cx="375.86" cy="94.78" r="0.8" fill="#7fcf7f"/><circle cx="379.49" cy="106.24" r="2.3"/><circle cx="378.79" cy="105.44" r="0.8" fill="#7fcf7f"/><circle cx="382.74" cy="115.27" r="2.3"/><circle cx="382.04" cy="114.47" r="0.8" fill="#7fcf7f"/><circle cx="385.83" cy="123.85" r="2.3"/><circle cx="385.13" cy="123.05" r="0.8" fill="#7fcf7f"/><circle cx="389.24" cy="131.4" r="2.3"/><circle cx="388.54" cy="130.6" r="0.8" fill="#7fcf7f"/><circle cx="392.33" cy="137.17" r="2.3"/><circle cx="391.63" cy="136.37" r="0.8" fill="#7fcf7f"/><circle cx="400.06" cy="144.13" r="2.3"/><circle cx="399.36" cy="143.33" r="0.8" fill="#7fcf7f"/><circle cx="407.49" cy="144.13" r="2.3"/><circle cx="406.79" cy="143.33" r="0.8" fill="#7fcf7f"/><circle cx="414.91" cy="139.54" r="2.3"/><circle cx="414.21" cy="138.74" r="0.8" fill="#7fcf7f"/><circle cx="423.26" cy="128.88" r="2.3"/><circle cx="422.56" cy="128.08" r="0.8" fill="#7fcf7f"/><circle cx="430.68" cy="116.3" r="2.3"/><circle cx="429.98" cy="115.5" r="0.8" fill="#7fcf7f"/><circle cx="438.11" cy="102.54" r="2.3"/><circle cx="437.41" cy="101.74" r="0.8" fill="#7fcf7f"/><circle cx="446.15" cy="89.22" r="2.3"/><circle cx="445.45" cy="88.42" r="0.8" fill="#7fcf7f"/><circle cx="453.88" cy="75.9" r="2.3"/><circle cx="453.18" cy="75.1" r="0.8" fill="#7fcf7f"/><circle cx="469.65" cy="58.88" r="2.3"/><circle cx="468.95" cy="58.08" r="0.8" fill="#7fcf7f"/><circle cx="485.12" cy="42.3" r="2.3"/><circle cx="484.42" cy="41.5" r="0.8" fill="#7fcf7f"/><circle cx="500.58" cy="28.54" r="2.3"/><circle cx="499.88" cy="27.74" r="0.8" fill="#7fcf7f"/><circle cx="516.05" cy="16.7" r="2.3"/><circle cx="515.35" cy="15.9" r="0.8" fill="#7fcf7f"/></g>
<g fill="#fff" stroke="#8ad8e8" stroke-width="0.9"><circle cx="361.4" cy="29.72" r="2.0"/><circle cx="361.49" cy="37.86" r="2.0"/><circle cx="361.71" cy="43.78" r="2.0"/><circle cx="362.95" cy="48.82" r="2.0"/><circle cx="364.18" cy="55.18" r="2.0"/><circle cx="367.28" cy="64.06" r="2.0"/><circle cx="370.06" cy="76.64" r="2.0"/><circle cx="373.46" cy="88.63" r="2.0"/><circle cx="376.56" cy="100.17" r="2.0"/><circle cx="379.49" cy="110.83" r="2.0"/><circle cx="382.74" cy="120.3" r="2.0"/><circle cx="385.83" cy="127.85" r="2.0"/><circle cx="389.24" cy="135.1" r="2.0"/><circle cx="392.33" cy="138.5" r="2.0"/><circle cx="400.06" cy="141.46" r="2.0"/><circle cx="407.49" cy="138.5" r="2.0"/><circle cx="414.91" cy="130.36" r="2.0"/><circle cx="422.64" cy="120.74" r="2.0"/><circle cx="430.68" cy="105.2" r="2.0"/><circle cx="438.11" cy="93.66" r="2.0"/><circle cx="445.84" cy="81.82" r="2.0"/><circle cx="453.88" cy="70.42" r="2.0"/><circle cx="469.65" cy="58.88" r="2.0"/><circle cx="485.12" cy="46.89" r="2.0"/><circle cx="500.58" cy="36.68" r="2.0"/><circle cx="516.05" cy="27.65" r="2.0"/></g>
<path d="M361.2 163.9v-3.0M361.2 1.9v3.0M423 163.9v-3.0M423 1.9v3.0M484.8 163.9v-3.0M484.8 1.9v3.0M546.6 163.9v-3.0M546.6 1.9v3.0M392.1 163.9v-2.0M392.1 1.9v2.0M453.9 163.9v-2.0M453.9 1.9v2.0M515.7 163.9v-2.0M515.7 1.9v2.0M330.2 163.8h3.0M546.9 163.8h-3.0M330.2 134.3h3.0M546.9 134.3h-3.0M330.2 104.8h3.0M546.9 104.8h-3.0M330.2 75.3h3.0M546.9 75.3h-3.0M330.2 45.8h3.0M546.9 45.8h-3.0M330.2 16.3h3.0M546.9 16.3h-3.0M330.2 149.05h2.0M546.9 149.05h-2.0M330.2 119.55h2.0M546.9 119.55h-2.0M330.2 90.05h2.0M546.9 90.05h-2.0M330.2 60.55h2.0M546.9 60.55h-2.0M330.2 31.05h2.0M546.9 31.05h-2.0" stroke="#4a4a4a" stroke-width="1.1" fill="none"/>
<rect x="330.2" y="1.9" width="216.7" height="162" fill="none" stroke="#4a4a4a" stroke-width="1.05"/>
<path d="M361.2 1.9V163.9M330.2 16.3H546.9" stroke="#4a4a4a" stroke-width="1.1"/>
<text class="tk" x="361.2" y="175.2" font-size="10.3" text-anchor="middle">0</text>
<text class="tk" x="423" y="175.2" font-size="10.3" text-anchor="middle">2</text>
<text class="tk" x="484.8" y="175.2" font-size="10.3" text-anchor="middle">4</text>
<text class="tk" x="546.6" y="175.2" font-size="10.3" text-anchor="middle">6</text>
<text class="tk" x="327.4" y="167" font-size="10.3" text-anchor="end">-1.0</text>
<text class="tk" x="327.4" y="137.5" font-size="10.3" text-anchor="end">-0.8</text>
<text class="tk" x="327.4" y="108" font-size="10.3" text-anchor="end">-0.6</text>
<text class="tk" x="327.4" y="78.5" font-size="10.3" text-anchor="end">-0.4</text>
<text class="tk" x="327.4" y="49" font-size="10.3" text-anchor="end">-0.2</text>
<text class="tk" x="327.4" y="19.5" font-size="10.3" text-anchor="end">0.0</text>
<text x="525" y="142.3" font-size="18">(b)</text>
<text transform="translate(301.2 91.8) rotate(-90)" font-size="14" text-anchor="middle" font-style="italic">ΔM</text>
<text x="404" y="192.6" font-size="14"><tspan font-style="italic">μ</tspan><tspan font-style="italic" font-size="8" dy="5.3" dx="0.8">0</tspan><tspan font-style="italic" dy="-5.3" dx="-0.2">H</tspan><tspan font-style="italic" font-size="9" dy="3.4">reverse</tspan><tspan dy="-3.4" dx="2.8">(T)</tspan></text>
<g fill="#0a880a"><circle cx="75.8" cy="346" r="2.0"/><circle cx="75.2" cy="345.3" r="0.6" fill="#6cc86c"/><circle cx="76.95" cy="343.45" r="2.0"/><circle cx="76.35" cy="342.75" r="0.6" fill="#6cc86c"/><circle cx="77.89" cy="340.81" r="2.0"/><circle cx="77.29" cy="340.11" r="0.6" fill="#6cc86c"/><circle cx="78.73" cy="338.14" r="2.0"/><circle cx="78.13" cy="337.44" r="0.6" fill="#6cc86c"/><circle cx="79.51" cy="335.45" r="2.0"/><circle cx="78.91" cy="334.75" r="0.6" fill="#6cc86c"/><circle cx="80.25" cy="332.75" r="2.0"/><circle cx="79.65" cy="332.05" r="0.6" fill="#6cc86c"/><circle cx="80.97" cy="330.05" r="2.0"/><circle cx="80.37" cy="329.35" r="0.6" fill="#6cc86c"/><circle cx="81.69" cy="327.34" r="2.0"/><circle cx="81.09" cy="326.64" r="0.6" fill="#6cc86c"/><circle cx="82.4" cy="324.63" r="2.0"/><circle cx="81.8" cy="323.93" r="0.6" fill="#6cc86c"/><circle cx="83.12" cy="321.93" r="2.0"/><circle cx="82.52" cy="321.23" r="0.6" fill="#6cc86c"/><circle cx="83.86" cy="319.23" r="2.0"/><circle cx="83.26" cy="318.53" r="0.6" fill="#6cc86c"/><circle cx="84.61" cy="316.53" r="2.0"/><circle cx="84.01" cy="315.83" r="0.6" fill="#6cc86c"/><circle cx="85.38" cy="313.84" r="2.0"/><circle cx="84.78" cy="313.14" r="0.6" fill="#6cc86c"/><circle cx="86.15" cy="311.15" r="2.0"/><circle cx="85.55" cy="310.45" r="0.6" fill="#6cc86c"/><circle cx="86.94" cy="308.46" r="2.0"/><circle cx="86.34" cy="307.76" r="0.6" fill="#6cc86c"/><circle cx="87.73" cy="305.77" r="2.0"/><circle cx="87.13" cy="305.07" r="0.6" fill="#6cc86c"/><circle cx="88.53" cy="303.09" r="2.0"/><circle cx="87.93" cy="302.39" r="0.6" fill="#6cc86c"/><circle cx="89.32" cy="300.4" r="2.0"/><circle cx="88.72" cy="299.7" r="0.6" fill="#6cc86c"/><circle cx="90.12" cy="297.72" r="2.0"/><circle cx="89.52" cy="297.02" r="0.6" fill="#6cc86c"/><circle cx="90.9" cy="295.03" r="2.0"/><circle cx="90.3" cy="294.33" r="0.6" fill="#6cc86c"/><circle cx="91.68" cy="292.34" r="2.0"/><circle cx="91.08" cy="291.64" r="0.6" fill="#6cc86c"/><circle cx="92.45" cy="289.65" r="2.0"/><circle cx="91.85" cy="288.95" r="0.6" fill="#6cc86c"/><circle cx="93.21" cy="286.96" r="2.0"/><circle cx="92.61" cy="286.26" r="0.6" fill="#6cc86c"/><circle cx="93.96" cy="284.26" r="2.0"/><circle cx="93.36" cy="283.56" r="0.6" fill="#6cc86c"/><circle cx="94.7" cy="281.56" r="2.0"/><circle cx="94.1" cy="280.86" r="0.6" fill="#6cc86c"/><circle cx="95.43" cy="278.85" r="2.0"/><circle cx="94.83" cy="278.15" r="0.6" fill="#6cc86c"/><circle cx="96.15" cy="276.15" r="2.0"/><circle cx="95.55" cy="275.45" r="0.6" fill="#6cc86c"/><circle cx="96.86" cy="273.44" r="2.0"/><circle cx="96.26" cy="272.74" r="0.6" fill="#6cc86c"/><circle cx="97.57" cy="270.73" r="2.0"/><circle cx="96.97" cy="270.03" r="0.6" fill="#6cc86c"/><circle cx="98.27" cy="268.02" r="2.0"/><circle cx="97.67" cy="267.32" r="0.6" fill="#6cc86c"/><circle cx="98.97" cy="265.31" r="2.0"/><circle cx="98.37" cy="264.61" r="0.6" fill="#6cc86c"/><circle cx="99.66" cy="262.59" r="2.0"/><circle cx="99.06" cy="261.89" r="0.6" fill="#6cc86c"/><circle cx="100.35" cy="259.88" r="2.0"/><circle cx="99.75" cy="259.18" r="0.6" fill="#6cc86c"/><circle cx="101.03" cy="257.17" r="2.0"/><circle cx="100.43" cy="256.47" r="0.6" fill="#6cc86c"/><circle cx="101.72" cy="254.45" r="2.0"/><circle cx="101.12" cy="253.75" r="0.6" fill="#6cc86c"/><circle cx="102.4" cy="251.73" r="2.0"/><circle cx="101.8" cy="251.03" r="0.6" fill="#6cc86c"/><circle cx="103.08" cy="249.02" r="2.0"/><circle cx="102.48" cy="248.32" r="0.6" fill="#6cc86c"/><circle cx="103.76" cy="246.3" r="2.0"/><circle cx="103.16" cy="245.6" r="0.6" fill="#6cc86c"/><circle cx="104.43" cy="243.58" r="2.0"/><circle cx="103.83" cy="242.88" r="0.6" fill="#6cc86c"/><circle cx="105.11" cy="240.87" r="2.0"/><circle cx="104.51" cy="240.17" r="0.6" fill="#6cc86c"/><circle cx="105.79" cy="238.15" r="2.0"/><circle cx="105.19" cy="237.45" r="0.6" fill="#6cc86c"/><circle cx="106.47" cy="235.43" r="2.0"/><circle cx="105.87" cy="234.73" r="0.6" fill="#6cc86c"/><circle cx="107.15" cy="232.72" r="2.0"/><circle cx="106.55" cy="232.02" r="0.6" fill="#6cc86c"/><circle cx="107.83" cy="230" r="2.0"/><circle cx="107.23" cy="229.3" r="0.6" fill="#6cc86c"/><circle cx="108.51" cy="227.29" r="2.0"/><circle cx="107.91" cy="226.59" r="0.6" fill="#6cc86c"/><circle cx="109.2" cy="224.57" r="2.0"/><circle cx="108.6" cy="223.87" r="0.6" fill="#6cc86c"/><circle cx="110.28" cy="224" r="2.0"/><circle cx="109.68" cy="223.3" r="0.6" fill="#6cc86c"/><circle cx="111.58" cy="226.48" r="2.0"/><circle cx="110.98" cy="225.78" r="0.6" fill="#6cc86c"/><circle cx="112.69" cy="229.05" r="2.0"/><circle cx="112.09" cy="228.35" r="0.6" fill="#6cc86c"/><circle cx="113.7" cy="231.66" r="2.0"/><circle cx="113.1" cy="230.96" r="0.6" fill="#6cc86c"/><circle cx="114.65" cy="234.3" r="2.0"/><circle cx="114.05" cy="233.6" r="0.6" fill="#6cc86c"/><circle cx="115.57" cy="236.94" r="2.0"/><circle cx="114.97" cy="236.24" r="0.6" fill="#6cc86c"/><circle cx="116.47" cy="239.59" r="2.0"/><circle cx="115.87" cy="238.89" r="0.6" fill="#6cc86c"/><circle cx="117.37" cy="242.24" r="2.0"/><circle cx="116.77" cy="241.54" r="0.6" fill="#6cc86c"/><circle cx="118.28" cy="244.89" r="2.0"/><circle cx="117.68" cy="244.19" r="0.6" fill="#6cc86c"/><circle cx="119.22" cy="247.53" r="2.0"/><circle cx="118.62" cy="246.83" r="0.6" fill="#6cc86c"/><circle cx="120.19" cy="250.16" r="2.0"/><circle cx="119.59" cy="249.46" r="0.6" fill="#6cc86c"/><circle cx="121.18" cy="252.77" r="2.0"/><circle cx="120.58" cy="252.07" r="0.6" fill="#6cc86c"/><circle cx="122.21" cy="255.38" r="2.0"/><circle cx="121.61" cy="254.68" r="0.6" fill="#6cc86c"/><circle cx="123.27" cy="257.97" r="2.0"/><circle cx="122.67" cy="257.27" r="0.6" fill="#6cc86c"/><circle cx="124.36" cy="260.55" r="2.0"/><circle cx="123.76" cy="259.85" r="0.6" fill="#6cc86c"/><circle cx="125.49" cy="263.11" r="2.0"/><circle cx="124.89" cy="262.41" r="0.6" fill="#6cc86c"/><circle cx="126.66" cy="265.65" r="2.0"/><circle cx="126.06" cy="264.95" r="0.6" fill="#6cc86c"/><circle cx="127.87" cy="268.18" r="2.0"/><circle cx="127.27" cy="267.48" r="0.6" fill="#6cc86c"/><circle cx="129.12" cy="270.68" r="2.0"/><circle cx="128.52" cy="269.98" r="0.6" fill="#6cc86c"/><circle cx="130.41" cy="273.17" r="2.0"/><circle cx="129.81" cy="272.47" r="0.6" fill="#6cc86c"/><circle cx="131.75" cy="275.63" r="2.0"/><circle cx="131.15" cy="274.93" r="0.6" fill="#6cc86c"/><circle cx="133.13" cy="278.07" r="2.0"/><circle cx="132.53" cy="277.37" r="0.6" fill="#6cc86c"/><circle cx="134.55" cy="280.48" r="2.0"/><circle cx="133.95" cy="279.78" r="0.6" fill="#6cc86c"/><circle cx="136.02" cy="282.86" r="2.0"/><circle cx="135.42" cy="282.16" r="0.6" fill="#6cc86c"/><circle cx="137.53" cy="285.22" r="2.0"/><circle cx="136.93" cy="284.52" r="0.6" fill="#6cc86c"/><circle cx="139.08" cy="287.55" r="2.0"/><circle cx="138.48" cy="286.85" r="0.6" fill="#6cc86c"/><circle cx="140.67" cy="289.86" r="2.0"/><circle cx="140.07" cy="289.16" r="0.6" fill="#6cc86c"/><circle cx="142.29" cy="292.14" r="2.0"/><circle cx="141.69" cy="291.44" r="0.6" fill="#6cc86c"/><circle cx="143.94" cy="294.4" r="2.0"/><circle cx="143.34" cy="293.7" r="0.6" fill="#6cc86c"/><circle cx="145.62" cy="296.64" r="2.0"/><circle cx="145.02" cy="295.94" r="0.6" fill="#6cc86c"/><circle cx="147.35" cy="298.85" r="2.0"/><circle cx="146.75" cy="298.15" r="0.6" fill="#6cc86c"/><circle cx="149.11" cy="301.02" r="2.0"/><circle cx="148.51" cy="300.32" r="0.6" fill="#6cc86c"/><circle cx="150.9" cy="303.17" r="2.0"/><circle cx="150.3" cy="302.47" r="0.6" fill="#6cc86c"/><circle cx="152.73" cy="305.29" r="2.0"/><circle cx="152.13" cy="304.59" r="0.6" fill="#6cc86c"/><circle cx="154.61" cy="307.37" r="2.0"/><circle cx="154.01" cy="306.67" r="0.6" fill="#6cc86c"/><circle cx="156.52" cy="309.41" r="2.0"/><circle cx="155.92" cy="308.71" r="0.6" fill="#6cc86c"/><circle cx="158.47" cy="311.42" r="2.0"/><circle cx="157.87" cy="310.72" r="0.6" fill="#6cc86c"/><circle cx="160.47" cy="313.39" r="2.0"/><circle cx="159.87" cy="312.69" r="0.6" fill="#6cc86c"/><circle cx="162.51" cy="315.31" r="2.0"/><circle cx="161.91" cy="314.61" r="0.6" fill="#6cc86c"/><circle cx="164.58" cy="317.18" r="2.0"/><circle cx="163.98" cy="316.48" r="0.6" fill="#6cc86c"/><circle cx="166.7" cy="319.01" r="2.0"/><circle cx="166.1" cy="318.31" r="0.6" fill="#6cc86c"/><circle cx="168.87" cy="320.79" r="2.0"/><circle cx="168.27" cy="320.09" r="0.6" fill="#6cc86c"/><circle cx="171.07" cy="322.52" r="2.0"/><circle cx="170.47" cy="321.82" r="0.6" fill="#6cc86c"/><circle cx="173.32" cy="324.19" r="2.0"/><circle cx="172.72" cy="323.49" r="0.6" fill="#6cc86c"/><circle cx="175.6" cy="325.8" r="2.0"/><circle cx="175" cy="325.1" r="0.6" fill="#6cc86c"/><circle cx="177.93" cy="327.36" r="2.0"/><circle cx="177.33" cy="326.66" r="0.6" fill="#6cc86c"/><circle cx="180.3" cy="328.86" r="2.0"/><circle cx="179.7" cy="328.16" r="0.6" fill="#6cc86c"/><circle cx="182.7" cy="330.3" r="2.0"/><circle cx="182.1" cy="329.6" r="0.6" fill="#6cc86c"/><circle cx="185.13" cy="331.68" r="2.0"/><circle cx="184.53" cy="330.98" r="0.6" fill="#6cc86c"/><circle cx="187.6" cy="333" r="2.0"/><circle cx="187" cy="332.3" r="0.6" fill="#6cc86c"/><circle cx="190.1" cy="334.26" r="2.0"/><circle cx="189.5" cy="333.56" r="0.6" fill="#6cc86c"/><circle cx="192.63" cy="335.46" r="2.0"/><circle cx="192.03" cy="334.76" r="0.6" fill="#6cc86c"/><circle cx="195.19" cy="336.61" r="2.0"/><circle cx="194.59" cy="335.91" r="0.6" fill="#6cc86c"/><circle cx="197.77" cy="337.7" r="2.0"/><circle cx="197.17" cy="337" r="0.6" fill="#6cc86c"/><circle cx="200.37" cy="338.73" r="2.0"/><circle cx="199.77" cy="338.03" r="0.6" fill="#6cc86c"/><circle cx="202.99" cy="339.72" r="2.0"/><circle cx="202.39" cy="339.02" r="0.6" fill="#6cc86c"/><circle cx="205.62" cy="340.66" r="2.0"/><circle cx="205.02" cy="339.96" r="0.6" fill="#6cc86c"/><circle cx="208.28" cy="341.56" r="2.0"/><circle cx="207.68" cy="340.86" r="0.6" fill="#6cc86c"/><circle cx="210.94" cy="342.42" r="2.0"/><circle cx="210.34" cy="341.72" r="0.6" fill="#6cc86c"/><circle cx="213.61" cy="343.25" r="2.0"/><circle cx="213.01" cy="342.55" r="0.6" fill="#6cc86c"/><circle cx="216.3" cy="344.05" r="2.0"/><circle cx="215.7" cy="343.35" r="0.6" fill="#6cc86c"/><circle cx="218.99" cy="344.83" r="2.0"/><circle cx="218.39" cy="344.13" r="0.6" fill="#6cc86c"/><circle cx="221.68" cy="345.59" r="2.0"/><circle cx="221.08" cy="344.89" r="0.6" fill="#6cc86c"/><circle cx="224.38" cy="346.34" r="2.0"/><circle cx="223.78" cy="345.64" r="0.6" fill="#6cc86c"/><circle cx="227.08" cy="347.08" r="2.0"/><circle cx="226.48" cy="346.38" r="0.6" fill="#6cc86c"/><circle cx="229.78" cy="347.82" r="2.0"/><circle cx="229.18" cy="347.12" r="0.6" fill="#6cc86c"/><circle cx="232.48" cy="348.56" r="2.0"/><circle cx="231.88" cy="347.86" r="0.6" fill="#6cc86c"/><circle cx="235.18" cy="349.31" r="2.0"/><circle cx="234.58" cy="348.61" r="0.6" fill="#6cc86c"/><circle cx="237.87" cy="350.08" r="2.0"/><circle cx="237.27" cy="349.38" r="0.6" fill="#6cc86c"/><circle cx="240.56" cy="350.87" r="2.0"/><circle cx="239.96" cy="350.17" r="0.6" fill="#6cc86c"/><circle cx="243.23" cy="351.69" r="2.0"/><circle cx="242.63" cy="350.99" r="0.6" fill="#6cc86c"/><circle cx="245.9" cy="352.54" r="2.0"/><circle cx="245.3" cy="351.84" r="0.6" fill="#6cc86c"/></g>
<g fill="#fff" stroke="#5cc45c" stroke-width="0.75"><circle cx="75.7" cy="238.3" r="2.05"/><circle cx="77.95" cy="238.76" r="2.05"/><circle cx="80.21" cy="239.19" r="2.05"/><circle cx="82.48" cy="239.58" r="2.05"/><circle cx="84.75" cy="239.93" r="2.05"/><circle cx="87.02" cy="240.22" r="2.05"/><circle cx="89.23" cy="239.62" r="2.05"/><circle cx="91.18" cy="238.41" r="2.05"/><circle cx="92.89" cy="236.88" r="2.05"/><circle cx="94.44" cy="235.18" r="2.05"/><circle cx="95.88" cy="233.38" r="2.05"/><circle cx="97.23" cy="231.52" r="2.05"/><circle cx="98.53" cy="229.62" r="2.05"/><circle cx="99.78" cy="227.7" r="2.05"/><circle cx="101.02" cy="225.76" r="2.05"/><circle cx="102.26" cy="223.82" r="2.05"/><circle cx="103.53" cy="221.9" r="2.05"/><circle cx="104.86" cy="220.03" r="2.05"/><circle cx="106.29" cy="218.22" r="2.05"/><circle cx="107.88" cy="216.56" r="2.05"/><circle cx="109.54" cy="216.2" r="2.05"/><circle cx="110.67" cy="218.2" r="2.05"/><circle cx="111.63" cy="220.29" r="2.05"/><circle cx="112.48" cy="222.42" r="2.05"/><circle cx="113.27" cy="224.58" r="2.05"/><circle cx="114.03" cy="226.75" r="2.05"/><circle cx="114.75" cy="228.94" r="2.05"/><circle cx="115.46" cy="231.13" r="2.05"/><circle cx="116.15" cy="233.32" r="2.05"/><circle cx="116.85" cy="235.51" r="2.05"/><circle cx="117.54" cy="237.7" r="2.05"/><circle cx="118.24" cy="239.9" r="2.05"/><circle cx="118.95" cy="242.08" r="2.05"/><circle cx="119.67" cy="244.27" r="2.05"/><circle cx="120.42" cy="246.44" r="2.05"/><circle cx="121.18" cy="248.61" r="2.05"/><circle cx="121.97" cy="250.77" r="2.05"/><circle cx="122.78" cy="252.93" r="2.05"/><circle cx="123.61" cy="255.07" r="2.05"/><circle cx="124.46" cy="257.21" r="2.05"/><circle cx="125.34" cy="259.33" r="2.05"/><circle cx="126.25" cy="261.45" r="2.05"/><circle cx="127.18" cy="263.55" r="2.05"/><circle cx="128.14" cy="265.64" r="2.05"/><circle cx="129.12" cy="267.72" r="2.05"/><circle cx="130.14" cy="269.78" r="2.05"/><circle cx="131.19" cy="271.83" r="2.05"/><circle cx="132.27" cy="273.86" r="2.05"/><circle cx="133.39" cy="275.87" r="2.05"/><circle cx="134.53" cy="277.86" r="2.05"/><circle cx="135.71" cy="279.84" r="2.05"/><circle cx="136.91" cy="281.8" r="2.05"/><circle cx="138.15" cy="283.73" r="2.05"/><circle cx="139.42" cy="285.65" r="2.05"/><circle cx="140.71" cy="287.56" r="2.05"/><circle cx="142.03" cy="289.44" r="2.05"/><circle cx="143.37" cy="291.31" r="2.05"/><circle cx="144.73" cy="293.16" r="2.05"/><circle cx="146.12" cy="295" r="2.05"/><circle cx="147.53" cy="296.82" r="2.05"/><circle cx="148.96" cy="298.61" r="2.05"/><circle cx="150.42" cy="300.39" r="2.05"/><circle cx="151.91" cy="302.15" r="2.05"/><circle cx="153.42" cy="303.88" r="2.05"/><circle cx="154.96" cy="305.59" r="2.05"/><circle cx="156.52" cy="307.28" r="2.05"/><circle cx="158.11" cy="308.94" r="2.05"/><circle cx="159.73" cy="310.57" r="2.05"/><circle cx="161.38" cy="312.18" r="2.05"/><circle cx="163.05" cy="313.75" r="2.05"/><circle cx="164.76" cy="315.3" r="2.05"/><circle cx="166.49" cy="316.81" r="2.05"/><circle cx="168.25" cy="318.29" r="2.05"/><circle cx="170.04" cy="319.74" r="2.05"/><circle cx="171.86" cy="321.15" r="2.05"/><circle cx="173.7" cy="322.52" r="2.05"/><circle cx="175.57" cy="323.86" r="2.05"/><circle cx="177.47" cy="325.16" r="2.05"/><circle cx="179.4" cy="326.41" r="2.05"/><circle cx="181.35" cy="327.63" r="2.05"/><circle cx="183.32" cy="328.81" r="2.05"/><circle cx="185.32" cy="329.96" r="2.05"/><circle cx="187.34" cy="331.06" r="2.05"/><circle cx="189.38" cy="332.12" r="2.05"/><circle cx="191.44" cy="333.14" r="2.05"/><circle cx="193.51" cy="334.13" r="2.05"/><circle cx="195.61" cy="335.08" r="2.05"/><circle cx="197.72" cy="335.99" r="2.05"/><circle cx="199.85" cy="336.87" r="2.05"/><circle cx="201.98" cy="337.72" r="2.05"/><circle cx="204.13" cy="338.53" r="2.05"/><circle cx="206.29" cy="339.32" r="2.05"/><circle cx="208.46" cy="340.09" r="2.05"/><circle cx="210.64" cy="340.82" r="2.05"/><circle cx="212.83" cy="341.54" r="2.05"/><circle cx="215.02" cy="342.25" r="2.05"/><circle cx="217.21" cy="342.93" r="2.05"/><circle cx="219.41" cy="343.61" r="2.05"/><circle cx="221.61" cy="344.27" r="2.05"/><circle cx="223.82" cy="344.93" r="2.05"/><circle cx="226.02" cy="345.59" r="2.05"/><circle cx="228.22" cy="346.25" r="2.05"/><circle cx="230.43" cy="346.91" r="2.05"/><circle cx="232.63" cy="347.57" r="2.05"/><circle cx="234.83" cy="348.25" r="2.05"/><circle cx="237.02" cy="348.94" r="2.05"/><circle cx="239.21" cy="349.65" r="2.05"/><circle cx="241.39" cy="350.37" r="2.05"/><circle cx="243.57" cy="351.12" r="2.05"/></g>
<path d="M71.8 363.7v-3.0M71.8 202.1v3.0M115.25 363.7v-3.0M115.25 202.1v3.0M158.7 363.7v-3.0M158.7 202.1v3.0M202.15 363.7v-3.0M202.15 202.1v3.0M245.6 363.7v-3.0M245.6 202.1v3.0M50.07 363.7v-2.0M50.07 202.1v2.0M93.53 363.7v-2.0M93.53 202.1v2.0M136.97 363.7v-2.0M136.97 202.1v2.0M180.43 363.7v-2.0M180.43 202.1v2.0M223.88 363.7v-2.0M223.88 202.1v2.0M267.32 363.7v-2.0M267.32 202.1v2.0M50.3 354.3h3.0M266.8 354.3h-3.0M50.3 330.47h3.0M266.8 330.47h-3.0M50.3 306.63h3.0M266.8 306.63h-3.0M50.3 282.8h3.0M266.8 282.8h-3.0M50.3 258.96h3.0M266.8 258.96h-3.0M50.3 235.12h3.0M266.8 235.12h-3.0M50.3 211.29h3.0M266.8 211.29h-3.0M50.3 342.38h2.0M266.8 342.38h-2.0M50.3 318.55h2.0M266.8 318.55h-2.0M50.3 294.71h2.0M266.8 294.71h-2.0M50.3 270.88h2.0M266.8 270.88h-2.0M50.3 247.04h2.0M266.8 247.04h-2.0M50.3 223.21h2.0M266.8 223.21h-2.0" stroke="#4a4a4a" stroke-width="1.1" fill="none"/>
<rect x="50.3" y="202.1" width="216.5" height="161.6" fill="none" stroke="#4a4a4a" stroke-width="1.05"/>
<text class="tk" x="71.8" y="374.8" font-size="10.3" text-anchor="middle">0</text>
<text class="tk" x="115.25" y="374.8" font-size="10.3" text-anchor="middle">50</text>
<text class="tk" x="158.7" y="374.8" font-size="10.3" text-anchor="middle">100</text>
<text class="tk" x="202.15" y="374.8" font-size="10.3" text-anchor="middle">150</text>
<text class="tk" x="245.6" y="374.8" font-size="10.3" text-anchor="middle">200</text>
<text class="tk" x="46.2" y="357.9" font-size="10.3" text-anchor="end">0.005</text>
<text class="tk" x="46.2" y="334.07" font-size="10.3" text-anchor="end">0.010</text>
<text class="tk" x="46.2" y="310.23" font-size="10.3" text-anchor="end">0.015</text>
<text class="tk" x="46.2" y="286.4" font-size="10.3" text-anchor="end">0.020</text>
<text class="tk" x="46.2" y="262.56" font-size="10.3" text-anchor="end">0.025</text>
<text class="tk" x="46.2" y="238.72" font-size="10.3" text-anchor="end">0.030</text>
<text class="tk" x="46.2" y="214.89" font-size="10.3" text-anchor="end">0.035</text>
<path d="M158.5 214.3H184" stroke="#a6eea6" stroke-width="0.9"/><circle cx="170.9" cy="214.3" r="1.9" fill="#0a880a"/>
<path d="M210.4 214.3H237.6" stroke="#a6eea6" stroke-width="0.9"/><circle cx="223.6" cy="214.3" r="1.8" fill="#fff" stroke="#3cb43c" stroke-width="0.8"/>
<text x="185" y="218.9" font-size="12.5">ZFC</text>
<text x="240.5" y="218.9" font-size="12.5">FC</text>
<text x="158" y="234.3" font-size="12.5">MFO</text>
<text x="246" y="323.8" font-size="18">(c)</text>
<text x="158.8" y="390.1" font-size="14" text-anchor="middle"><tspan font-style="italic">T</tspan>(K)</text>
<text transform="translate(13.9 292.3) rotate(-90)" font-size="14" text-anchor="middle" style="stroke-width:0.05"><tspan font-style="italic">M</tspan> (A m<tspan font-size="7.5" dy="-6.5" dx="0.8">2</tspan><tspan dy="6.5"> Kg</tspan><tspan font-size="7.5" dy="-6.5" dx="0.5">-1</tspan><tspan dy="6.5" dx="0.5">)</tspan></text>
<g fill="#0b8080"><circle cx="346.64" cy="344.95" r="2.15"/><circle cx="348.19" cy="347.21" r="2.15"/><circle cx="349.74" cy="349.33" r="2.15"/><circle cx="351.29" cy="346.32" r="2.15"/><circle cx="352.84" cy="342.42" r="2.15"/><circle cx="354.38" cy="337.77" r="2.15"/><circle cx="355.93" cy="332.51" r="2.15"/><circle cx="357.48" cy="326.77" r="2.15"/><circle cx="359.03" cy="320.7" r="2.15"/><circle cx="360.58" cy="314.43" r="2.15"/><circle cx="362.13" cy="308.11" r="2.15"/><circle cx="363.67" cy="301.89" r="2.15"/><circle cx="365.22" cy="295.93" r="2.15"/><circle cx="366.77" cy="290.4" r="2.15"/><circle cx="368.32" cy="285.45" r="2.15"/><circle cx="369.87" cy="281.23" r="2.15"/><circle cx="371.42" cy="277.92" r="2.15"/><circle cx="372.96" cy="280.21" r="2.15"/><circle cx="374.51" cy="283.1" r="2.15"/><circle cx="376.06" cy="285.89" r="2.15"/><circle cx="377.61" cy="288.56" r="2.15"/><circle cx="379.16" cy="291.12" r="2.15"/><circle cx="380.71" cy="293.56" r="2.15"/><circle cx="382.25" cy="295.89" r="2.15"/><circle cx="383.8" cy="298.09" r="2.15"/><circle cx="385.35" cy="300.18" r="2.15"/><circle cx="386.9" cy="302.14" r="2.15"/><circle cx="388.45" cy="303.98" r="2.15"/><circle cx="389.99" cy="305.72" r="2.15"/><circle cx="391.54" cy="307.35" r="2.15"/><circle cx="393.09" cy="308.88" r="2.15"/><circle cx="394.64" cy="310.31" r="2.15"/><circle cx="396.19" cy="311.66" r="2.15"/><circle cx="397.74" cy="312.93" r="2.15"/><circle cx="399.28" cy="314.13" r="2.15"/><circle cx="400.83" cy="315.25" r="2.15"/><circle cx="402.38" cy="316.31" r="2.15"/><circle cx="403.93" cy="317.31" r="2.15"/><circle cx="405.48" cy="318.26" r="2.15"/><circle cx="407.03" cy="319.16" r="2.15"/><circle cx="408.57" cy="320.02" r="2.15"/><circle cx="410.12" cy="320.85" r="2.15"/><circle cx="411.67" cy="321.64" r="2.15"/><circle cx="413.22" cy="322.42" r="2.15"/><circle cx="414.77" cy="323.18" r="2.15"/><circle cx="416.31" cy="323.92" r="2.15"/><circle cx="417.86" cy="324.66" r="2.15"/><circle cx="419.41" cy="325.37" r="2.15"/><circle cx="420.96" cy="326.08" r="2.15"/><circle cx="422.51" cy="326.77" r="2.15"/><circle cx="424.06" cy="327.45" r="2.15"/><circle cx="425.6" cy="328.12" r="2.15"/><circle cx="427.15" cy="328.77" r="2.15"/><circle cx="428.7" cy="329.42" r="2.15"/><circle cx="430.25" cy="330.05" r="2.15"/><circle cx="431.8" cy="330.67" r="2.15"/><circle cx="433.35" cy="331.28" r="2.15"/><circle cx="434.89" cy="331.88" r="2.15"/><circle cx="436.44" cy="332.46" r="2.15"/><circle cx="437.99" cy="333.04" r="2.15"/><circle cx="439.54" cy="333.61" r="2.15"/><circle cx="441.09" cy="334.16" r="2.15"/><circle cx="442.64" cy="334.71" r="2.15"/><circle cx="444.18" cy="335.24" r="2.15"/><circle cx="445.73" cy="335.77" r="2.15"/><circle cx="447.28" cy="336.28" r="2.15"/><circle cx="448.83" cy="336.79" r="2.15"/><circle cx="450.38" cy="337.28" r="2.15"/><circle cx="451.92" cy="337.77" r="2.15"/><circle cx="453.47" cy="338.25" r="2.15"/><circle cx="455.02" cy="338.72" r="2.15"/><circle cx="456.57" cy="339.19" r="2.15"/><circle cx="458.12" cy="339.64" r="2.15"/><circle cx="459.67" cy="340.09" r="2.15"/><circle cx="461.21" cy="340.53" r="2.15"/><circle cx="462.76" cy="340.96" r="2.15"/><circle cx="464.31" cy="341.38" r="2.15"/><circle cx="465.86" cy="341.8" r="2.15"/><circle cx="467.41" cy="342.21" r="2.15"/><circle cx="468.96" cy="342.61" r="2.15"/><circle cx="470.5" cy="343.01" r="2.15"/><circle cx="472.05" cy="343.4" r="2.15"/><circle cx="473.6" cy="343.78" r="2.15"/><circle cx="475.15" cy="344.16" r="2.15"/><circle cx="476.7" cy="344.53" r="2.15"/><circle cx="478.24" cy="344.9" r="2.15"/><circle cx="479.79" cy="345.26" r="2.15"/><circle cx="481.34" cy="345.62" r="2.15"/><circle cx="482.89" cy="345.97" r="2.15"/><circle cx="484.44" cy="346.31" r="2.15"/><circle cx="485.99" cy="346.66" r="2.15"/><circle cx="487.53" cy="346.99" r="2.15"/><circle cx="489.08" cy="347.33" r="2.15"/><circle cx="490.63" cy="347.66" r="2.15"/><circle cx="492.18" cy="347.98" r="2.15"/><circle cx="493.73" cy="348.3" r="2.15"/><circle cx="495.28" cy="348.62" r="2.15"/><circle cx="496.82" cy="348.94" r="2.15"/><circle cx="498.37" cy="349.25" r="2.15"/><circle cx="499.92" cy="349.56" r="2.15"/><circle cx="501.47" cy="349.87" r="2.15"/><circle cx="503.02" cy="350.17" r="2.15"/><circle cx="504.57" cy="350.48" r="2.15"/><circle cx="506.11" cy="350.78" r="2.15"/><circle cx="507.66" cy="351.08" r="2.15"/><circle cx="509.21" cy="351.37" r="2.15"/><circle cx="510.76" cy="351.67" r="2.15"/><circle cx="512.31" cy="351.97" r="2.15"/><circle cx="513.85" cy="352.26" r="2.15"/><circle cx="515.4" cy="352.55" r="2.15"/><circle cx="516.95" cy="352.85" r="2.15"/><circle cx="518.5" cy="353.14" r="2.15"/><circle cx="520.05" cy="353.43" r="2.15"/><circle cx="521.6" cy="353.72" r="2.15"/><circle cx="523.14" cy="354.02" r="2.15"/><circle cx="524.69" cy="354.31" r="2.15"/><circle cx="526.24" cy="354.6" r="2.15"/></g>
<g fill="#fff" stroke="#6fd0d8" stroke-width="0.75"><circle cx="347.6" cy="231.1" r="1.95"/><circle cx="348.34" cy="233.28" r="1.95"/><circle cx="349.24" cy="235.39" r="1.95"/><circle cx="350.4" cy="237.38" r="1.95"/><circle cx="351.98" cy="239.03" r="1.95"/><circle cx="354.02" cy="240.06" r="1.95"/><circle cx="356.2" cy="240.8" r="1.95"/><circle cx="358.24" cy="241.75" r="1.95"/><circle cx="360.45" cy="241.19" r="1.95"/><circle cx="362.38" cy="239.95" r="1.95"/><circle cx="364.14" cy="238.47" r="1.95"/><circle cx="365.85" cy="236.93" r="1.95"/><circle cx="367.61" cy="235.45" r="1.95"/><circle cx="369.55" cy="234.22" r="1.95"/><circle cx="371.12" cy="235.61" r="1.95"/><circle cx="372.19" cy="237.65" r="1.95"/><circle cx="373.09" cy="239.76" r="1.95"/><circle cx="373.92" cy="241.91" r="1.95"/><circle cx="374.72" cy="244.06" r="1.95"/><circle cx="375.51" cy="246.22" r="1.95"/><circle cx="376.3" cy="248.38" r="1.95"/><circle cx="377.1" cy="250.54" r="1.95"/><circle cx="377.91" cy="252.69" r="1.95"/><circle cx="378.73" cy="254.84" r="1.95"/><circle cx="379.58" cy="256.98" r="1.95"/><circle cx="380.44" cy="259.11" r="1.95"/><circle cx="381.33" cy="261.23" r="1.95"/><circle cx="382.26" cy="263.34" r="1.95"/><circle cx="383.22" cy="265.43" r="1.95"/><circle cx="384.21" cy="267.5" r="1.95"/><circle cx="385.25" cy="269.56" r="1.95"/><circle cx="386.32" cy="271.59" r="1.95"/><circle cx="387.43" cy="273.6" r="1.95"/><circle cx="388.59" cy="275.59" r="1.95"/><circle cx="389.8" cy="277.54" r="1.95"/><circle cx="391.07" cy="279.47" r="1.95"/><circle cx="392.38" cy="281.35" r="1.95"/><circle cx="393.75" cy="283.2" r="1.95"/><circle cx="395.17" cy="285.01" r="1.95"/><circle cx="396.66" cy="286.76" r="1.95"/><circle cx="398.2" cy="288.47" r="1.95"/><circle cx="399.79" cy="290.13" r="1.95"/><circle cx="401.43" cy="291.74" r="1.95"/><circle cx="403.12" cy="293.3" r="1.95"/><circle cx="404.85" cy="294.82" r="1.95"/><circle cx="406.61" cy="296.3" r="1.95"/><circle cx="408.39" cy="297.75" r="1.95"/><circle cx="410.19" cy="299.19" r="1.95"/><circle cx="412" cy="300.61" r="1.95"/><circle cx="413.82" cy="302.01" r="1.95"/><circle cx="415.66" cy="303.4" r="1.95"/><circle cx="417.5" cy="304.77" r="1.95"/><circle cx="419.36" cy="306.12" r="1.95"/><circle cx="421.23" cy="307.46" r="1.95"/><circle cx="423.12" cy="308.78" r="1.95"/><circle cx="425.01" cy="310.08" r="1.95"/><circle cx="426.92" cy="311.36" r="1.95"/><circle cx="428.84" cy="312.63" r="1.95"/><circle cx="430.78" cy="313.88" r="1.95"/><circle cx="432.72" cy="315.11" r="1.95"/><circle cx="434.67" cy="316.32" r="1.95"/><circle cx="436.64" cy="317.51" r="1.95"/><circle cx="438.62" cy="318.69" r="1.95"/><circle cx="440.6" cy="319.85" r="1.95"/><circle cx="442.6" cy="320.98" r="1.95"/><circle cx="444.61" cy="322.1" r="1.95"/><circle cx="446.63" cy="323.21" r="1.95"/><circle cx="448.66" cy="324.29" r="1.95"/><circle cx="450.7" cy="325.35" r="1.95"/><circle cx="452.75" cy="326.4" r="1.95"/><circle cx="454.81" cy="327.42" r="1.95"/><circle cx="456.87" cy="328.43" r="1.95"/><circle cx="458.95" cy="329.42" r="1.95"/><circle cx="461.03" cy="330.4" r="1.95"/><circle cx="463.13" cy="331.35" r="1.95"/><circle cx="465.23" cy="332.29" r="1.95"/><circle cx="467.34" cy="333.21" r="1.95"/><circle cx="469.45" cy="334.11" r="1.95"/><circle cx="471.57" cy="334.99" r="1.95"/><circle cx="473.7" cy="335.86" r="1.95"/><circle cx="475.84" cy="336.71" r="1.95"/><circle cx="477.99" cy="337.54" r="1.95"/><circle cx="480.13" cy="338.36" r="1.95"/><circle cx="482.29" cy="339.16" r="1.95"/><circle cx="484.45" cy="339.95" r="1.95"/><circle cx="486.62" cy="340.72" r="1.95"/><circle cx="488.79" cy="341.48" r="1.95"/><circle cx="490.97" cy="342.22" r="1.95"/><circle cx="493.15" cy="342.95" r="1.95"/><circle cx="495.33" cy="343.67" r="1.95"/><circle cx="497.52" cy="344.37" r="1.95"/><circle cx="499.72" cy="345.07" r="1.95"/><circle cx="501.91" cy="345.74" r="1.95"/><circle cx="504.11" cy="346.41" r="1.95"/><circle cx="506.32" cy="347.07" r="1.95"/><circle cx="508.53" cy="347.72" r="1.95"/><circle cx="510.74" cy="348.35" r="1.95"/><circle cx="512.95" cy="348.98" r="1.95"/><circle cx="515.16" cy="349.6" r="1.95"/><circle cx="517.38" cy="350.21" r="1.95"/><circle cx="519.6" cy="350.81" r="1.95"/><circle cx="521.82" cy="351.4" r="1.95"/><circle cx="524.05" cy="351.99" r="1.95"/><circle cx="526.27" cy="352.58" r="1.95"/><circle cx="528.5" cy="353.15" r="1.95"/><circle cx="530.73" cy="353.73" r="1.95"/></g>
<path d="M344.6 366.2v-3.0M344.6 204.3v3.0M375.56 366.2v-3.0M375.56 204.3v3.0M406.53 366.2v-3.0M406.53 204.3v3.0M437.5 366.2v-3.0M437.5 204.3v3.0M468.46 366.2v-3.0M468.46 204.3v3.0M499.43 366.2v-3.0M499.43 204.3v3.0M530.39 366.2v-3.0M530.39 204.3v3.0M360.08 366.2v-2.0M360.08 204.3v2.0M391.05 366.2v-2.0M391.05 204.3v2.0M422.01 366.2v-2.0M422.01 204.3v2.0M452.98 366.2v-2.0M452.98 204.3v2.0M483.94 366.2v-2.0M483.94 204.3v2.0M514.91 366.2v-2.0M514.91 204.3v2.0M329.5 352.1h3.0M546.1 352.1h-3.0M329.5 316.9h3.0M546.1 316.9h-3.0M329.5 281.7h3.0M546.1 281.7h-3.0M329.5 246.5h3.0M546.1 246.5h-3.0M329.5 211.3h3.0M546.1 211.3h-3.0M329.5 334.5h2.0M546.1 334.5h-2.0M329.5 299.3h2.0M546.1 299.3h-2.0M329.5 264.1h2.0M546.1 264.1h-2.0M329.5 228.9h2.0M546.1 228.9h-2.0" stroke="#4a4a4a" stroke-width="1.1" fill="none"/>
<rect x="329.5" y="204.3" width="216.6" height="161.9" fill="none" stroke="#4a4a4a" stroke-width="1.05"/>
<text class="tk" x="344.6" y="377" font-size="10.3" text-anchor="middle">0</text>
<text class="tk" x="375.56" y="377" font-size="10.3" text-anchor="middle">50</text>
<text class="tk" x="406.53" y="377" font-size="10.3" text-anchor="middle">100</text>
<text class="tk" x="437.5" y="377" font-size="10.3" text-anchor="middle">150</text>
<text class="tk" x="468.46" y="377" font-size="10.3" text-anchor="middle">200</text>
<text class="tk" x="499.43" y="377" font-size="10.3" text-anchor="middle">250</text>
<text class="tk" x="530.39" y="377" font-size="10.3" text-anchor="middle">300</text>
<text class="tk" x="325.4" y="355.7" font-size="10.3" text-anchor="end">0.005</text>
<text class="tk" x="325.4" y="320.5" font-size="10.3" text-anchor="end">0.010</text>
<text class="tk" x="325.4" y="285.3" font-size="10.3" text-anchor="end">0.015</text>
<text class="tk" x="325.4" y="250.1" font-size="10.3" text-anchor="end">0.020</text>
<text class="tk" x="325.4" y="214.9" font-size="10.3" text-anchor="end">0.025</text>
<path d="M422.7 216.3H449.5" stroke="#8ad8e8" stroke-width="0.9"/><circle cx="435.5" cy="216.3" r="1.9" fill="#0a7f80"/>
<path d="M478.2 216.3H505.4" stroke="#999" stroke-width="0.9"/><circle cx="491.4" cy="216.3" r="1.8" fill="#fff" stroke="#62c8d0" stroke-width="0.8"/>
<text x="452" y="220.8" font-size="12.5">ZFC</text>
<text x="508" y="220.8" font-size="12.5">FC</text>
<text x="422.5" y="235.8" font-size="12.3">MFO_BSA</text>
<text x="523" y="324.5" font-size="18">(d)</text>
<text x="433.8" y="393.2" font-size="14" text-anchor="middle"><tspan font-style="italic">T</tspan>(K)</text>
<text transform="translate(294 294.9) rotate(-90)" font-size="14" text-anchor="middle" style="stroke-width:0.05"><tspan font-style="italic">M</tspan> (A m<tspan font-size="7.5" dy="-6.5" dx="0.8">2</tspan><tspan dy="6.5"> Kg</tspan><tspan font-size="7.5" dy="-6.5" dx="0.5">-1</tspan><tspan dy="6.5" dx="0.5">)</tspan></text>
</svg></body></html>
